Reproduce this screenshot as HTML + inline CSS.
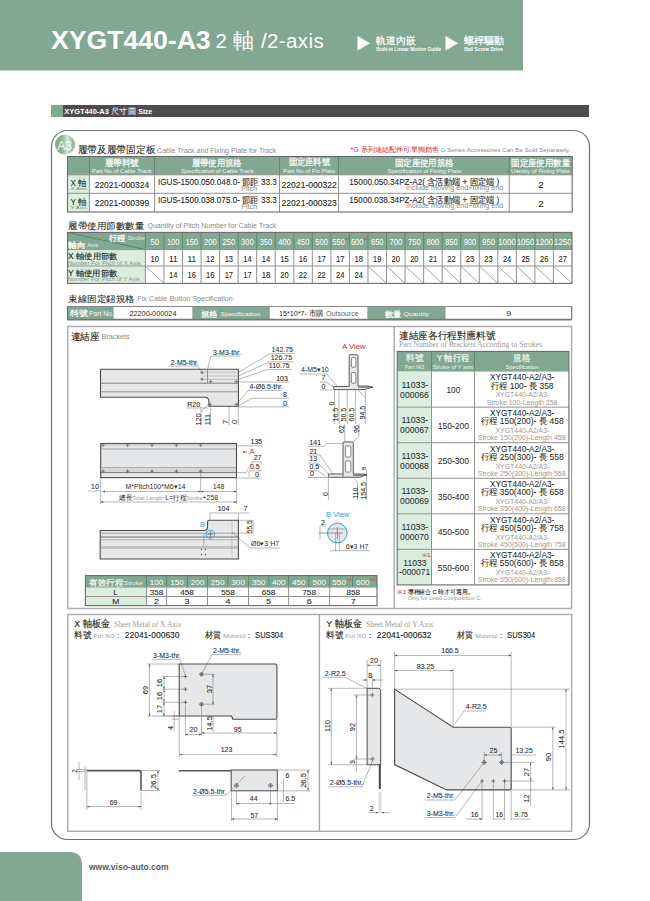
<!DOCTYPE html><html><head><meta charset="utf-8"><style>*{margin:0;padding:0}html,body{width:650px;height:901px;overflow:hidden;background:#fff}svg{display:block;font-family:"Liberation Sans",sans-serif}</style></head><body>
<svg width="650" height="901" viewBox="0 0 650 901">
<defs><linearGradient id="a3g" x1="0" y1="0" x2="1" y2="0"><stop offset="0" stop-color="#7aa88a"/><stop offset="0.35" stop-color="#8db59b"/><stop offset="0.62" stop-color="#d3e5d9"/><stop offset="1" stop-color="#7ea98f"/></linearGradient></defs>
<rect x="0" y="0" width="523" height="70.5" fill="#82a893" stroke="none" stroke-width="1" rx="0" />
<text x="51" y="49" font-size="26.6" fill="#fff" font-weight="bold" text-anchor="start" font-family='"Liberation Sans",sans-serif' >XYGT440-A3</text>
<text x="215.5" y="48" font-size="20.5" fill="#fff" font-weight="normal" text-anchor="start" font-family='"Liberation Sans",sans-serif' letter-spacing="0.4">2 軸 /2-axis</text>
<path d="M357.5,36 L370,43.2 L357.5,50.5 Z" fill="#fff" stroke="none" stroke-width="1" />
<text x="376.3" y="43.9" font-size="9.6" fill="#fff" font-weight="normal" text-anchor="start" font-family='"Liberation Sans",sans-serif'  stroke="#fff" stroke-width="0.25" textLength="39.0" lengthAdjust="spacingAndGlyphs">軌道內嵌</text>
<text x="376.3" y="51.2" font-size="4.7" fill="#fff" font-weight="bold" text-anchor="start" font-family='"Liberation Sans",sans-serif'  textLength="65.0" lengthAdjust="spacingAndGlyphs">Built-in Linear Motion Guide</text>
<path d="M445.5,36 L458,43.2 L445.5,50.5 Z" fill="#fff" stroke="none" stroke-width="1" />
<text x="464.2" y="43.9" font-size="9.6" fill="#fff" font-weight="normal" text-anchor="start" font-family='"Liberation Sans",sans-serif'  stroke="#fff" stroke-width="0.25" textLength="40.1" lengthAdjust="spacingAndGlyphs">螺桿驅動</text>
<text x="464.2" y="51.2" font-size="4.7" fill="#fff" font-weight="bold" text-anchor="start" font-family='"Liberation Sans",sans-serif'  textLength="38.7" lengthAdjust="spacingAndGlyphs">Ball Screw Drive</text>
<rect x="51" y="105" width="12" height="12" fill="#82a893" stroke="none" stroke-width="1" rx="0" />
<rect x="63" y="105" width="526" height="12" fill="#4d4d4f" stroke="none" stroke-width="1" rx="0" />
<text x="64.3" y="114.1" font-size="7" fill="#fff" font-weight="bold" text-anchor="start" font-family='"Liberation Sans",sans-serif'  textLength="44.5" lengthAdjust="spacingAndGlyphs">XYGT440-A3</text>
<text x="111.2" y="114.3" font-size="8" fill="#fff" font-weight="normal" text-anchor="start" font-family='"Liberation Sans",sans-serif'  textLength="24.5" lengthAdjust="spacingAndGlyphs">尺寸圖</text>
<text x="138.2" y="114.1" font-size="7" fill="#fff" font-weight="bold" text-anchor="start" font-family='"Liberation Sans",sans-serif'  textLength="14.1" lengthAdjust="spacingAndGlyphs">Size</text>
<rect x="51.5" y="130.5" width="538" height="709" fill="none" stroke="#727272" stroke-width="1.2" rx="16" />
<circle cx="65" cy="144.6" r="10" fill="url(#a3g)"/>
<text x="64.5" y="149.5" font-size="12" fill="#fff" font-weight="normal" text-anchor="middle" font-family='"Liberation Sans",sans-serif' opacity="0.9">A3</text>
<text x="77.7" y="153" font-size="9.6" fill="#231f20" font-weight="normal" text-anchor="start" font-family='"Liberation Sans",sans-serif'  stroke="#231f20" stroke-width="0.08" textLength="77.6" lengthAdjust="spacingAndGlyphs">履帶及履帶固定板</text>
<text x="157.1" y="153" font-size="7.4" fill="#8a8a8a" font-weight="normal" text-anchor="start" font-family='"Liberation Sans",sans-serif'  textLength="119.2" lengthAdjust="spacingAndGlyphs">Cable Track and Fixing Plate for Track</text>
<text x="350.5" y="152.2" font-size="7" fill="#e0262b" font-weight="normal" text-anchor="start" font-family='"Liberation Sans",sans-serif'  textLength="88.6" lengthAdjust="spacingAndGlyphs">*G 系列連結配件可單獨銷售</text>
<text x="440.7" y="152" font-size="6.2" fill="#8a8a8a" font-weight="normal" text-anchor="start" font-family='"Liberation Sans",sans-serif'  textLength="129.6" lengthAdjust="spacingAndGlyphs">G Series Accessories Can Be Sold Separately.</text>
<rect x="67.5" y="156.5" width="504.70000000000005" height="18.30000000000001" fill="#82a893" stroke="none" stroke-width="1" rx="0" />
<rect x="67.5" y="174.8" width="21.900000000000006" height="37.19999999999999" fill="#d9eedf" stroke="none" stroke-width="1" rx="0" />
<text x="104.7" y="165.5" font-size="8.8" fill="#f2f7f3" font-weight="normal" text-anchor="start" font-family='"Liberation Sans",sans-serif'  stroke="#f2f7f3" stroke-width="0.3" textLength="34.4" lengthAdjust="spacingAndGlyphs">履帶料號</text>
<text x="91.7" y="172.8" font-size="6.1" fill="#f2f7f3" font-weight="normal" text-anchor="start" font-family='"Liberation Sans",sans-serif'  textLength="60.1" lengthAdjust="spacingAndGlyphs">Part No of Cable Track</text>
<text x="191.7" y="165.5" font-size="8.8" fill="#f2f7f3" font-weight="normal" text-anchor="start" font-family='"Liberation Sans",sans-serif'  stroke="#f2f7f3" stroke-width="0.3" textLength="50.1" lengthAdjust="spacingAndGlyphs">履帶使用規格</text>
<text x="180.89999999999998" y="172.6" font-size="6.1" fill="#f2f7f3" font-weight="normal" text-anchor="start" font-family='"Liberation Sans",sans-serif'  textLength="72.8" lengthAdjust="spacingAndGlyphs">Specification of Cable Track</text>
<text x="288.5" y="165.2" font-size="8.8" fill="#f2f7f3" font-weight="normal" text-anchor="start" font-family='"Liberation Sans",sans-serif'  stroke="#f2f7f3" stroke-width="0.3" textLength="41.4" lengthAdjust="spacingAndGlyphs">固定座料號</text>
<text x="283.2" y="172.8" font-size="6.1" fill="#f2f7f3" font-weight="normal" text-anchor="start" font-family='"Liberation Sans",sans-serif'  textLength="52.1" lengthAdjust="spacingAndGlyphs">Part No of Fix Plate</text>
<text x="394.7" y="165.7" font-size="8.8" fill="#f2f7f3" font-weight="normal" text-anchor="start" font-family='"Liberation Sans",sans-serif'  stroke="#f2f7f3" stroke-width="0.3" textLength="59.1" lengthAdjust="spacingAndGlyphs">固定座使用規格</text>
<text x="387.4" y="172.8" font-size="6.1" fill="#f2f7f3" font-weight="normal" text-anchor="start" font-family='"Liberation Sans",sans-serif'  textLength="73.9" lengthAdjust="spacingAndGlyphs">Specification of Fixing Plate</text>
<text x="511.09999999999997" y="165.7" font-size="8.8" fill="#f2f7f3" font-weight="normal" text-anchor="start" font-family='"Liberation Sans",sans-serif'  stroke="#f2f7f3" stroke-width="0.3" textLength="59.2" lengthAdjust="spacingAndGlyphs">固定座使用數量</text>
<text x="511.09999999999997" y="172.8" font-size="6.1" fill="#f2f7f3" font-weight="normal" text-anchor="start" font-family='"Liberation Sans",sans-serif'  textLength="59.0" lengthAdjust="spacingAndGlyphs">Uantity of Fixing Plate</text>
<text x="70.60000000000001" y="186.2" font-size="8.6" fill="#231f20" font-weight="normal" text-anchor="start" font-family='"Liberation Sans",sans-serif'  textLength="16.2" lengthAdjust="spacingAndGlyphs">X 軸</text>
<text x="70.60000000000001" y="190.3" font-size="4.4" fill="#8a8a8a" font-weight="normal" text-anchor="start" font-family='"Liberation Sans",sans-serif'  textLength="16.6" lengthAdjust="spacingAndGlyphs">X Axis</text>
<text x="94.7" y="187.6" font-size="8.7" fill="#231f20" font-weight="normal" text-anchor="start" font-family='"Liberation Sans",sans-serif'  stroke="#231f20" stroke-width="0.1" textLength="54.4" lengthAdjust="spacingAndGlyphs">22021-000324</text>
<text x="157.89999999999998" y="184.5" font-size="8.9" fill="#231f20" font-weight="normal" text-anchor="start" font-family='"Liberation Sans",sans-serif'  stroke="#231f20" stroke-width="0.1" textLength="119.0" lengthAdjust="spacingAndGlyphs">IGUS-1500.050.048.0- 節距 33.3</text>
<text x="241.2" y="190.6" font-size="6.6" fill="#8a8a8a" font-weight="normal" text-anchor="start" font-family='"Liberation Sans",sans-serif'  textLength="16.1" lengthAdjust="spacingAndGlyphs">Pitch</text>
<text x="281.59999999999997" y="187.6" font-size="8.7" fill="#231f20" font-weight="normal" text-anchor="start" font-family='"Liberation Sans",sans-serif'  stroke="#231f20" stroke-width="0.1" textLength="55.2" lengthAdjust="spacingAndGlyphs">22021-000322</text>
<text x="349.3" y="184.6" font-size="8.9" fill="#231f20" font-weight="normal" text-anchor="start" font-family='"Liberation Sans",sans-serif'  stroke="#231f20" stroke-width="0.1" textLength="150.0" lengthAdjust="spacingAndGlyphs">15000.050.34PZ-A2( 含活動端 + 固定端 )</text>
<text x="405.9" y="189.6" font-size="6.9" fill="#8a8a8a" font-weight="normal" text-anchor="start" font-family='"Liberation Sans",sans-serif'  textLength="97.4" lengthAdjust="spacingAndGlyphs">Include moving end+fixing end</text>
<text x="538.2" y="188.4" font-size="8.6" fill="#231f20" font-weight="normal" text-anchor="start" font-family='"Liberation Sans",sans-serif'  stroke="#231f20" stroke-width="0.1" textLength="5.5" lengthAdjust="spacingAndGlyphs">2</text>
<text x="70.60000000000001" y="204.7" font-size="8.6" fill="#231f20" font-weight="normal" text-anchor="start" font-family='"Liberation Sans",sans-serif'  textLength="16.2" lengthAdjust="spacingAndGlyphs">Y 軸</text>
<text x="70.60000000000001" y="208.8" font-size="4.4" fill="#8a8a8a" font-weight="normal" text-anchor="start" font-family='"Liberation Sans",sans-serif'  textLength="16.6" lengthAdjust="spacingAndGlyphs">Y Axis</text>
<text x="94.7" y="206.1" font-size="8.7" fill="#231f20" font-weight="normal" text-anchor="start" font-family='"Liberation Sans",sans-serif'  stroke="#231f20" stroke-width="0.1" textLength="54.4" lengthAdjust="spacingAndGlyphs">22021-000399</text>
<text x="157.89999999999998" y="203.0" font-size="8.9" fill="#231f20" font-weight="normal" text-anchor="start" font-family='"Liberation Sans",sans-serif'  stroke="#231f20" stroke-width="0.1" textLength="119.0" lengthAdjust="spacingAndGlyphs">IGUS-1500.038.075.0- 節距 33.3</text>
<text x="241.2" y="209.1" font-size="6.6" fill="#8a8a8a" font-weight="normal" text-anchor="start" font-family='"Liberation Sans",sans-serif'  textLength="16.1" lengthAdjust="spacingAndGlyphs">Pitch</text>
<text x="281.59999999999997" y="206.1" font-size="8.7" fill="#231f20" font-weight="normal" text-anchor="start" font-family='"Liberation Sans",sans-serif'  stroke="#231f20" stroke-width="0.1" textLength="55.2" lengthAdjust="spacingAndGlyphs">22021-000323</text>
<text x="349.3" y="203.1" font-size="8.9" fill="#231f20" font-weight="normal" text-anchor="start" font-family='"Liberation Sans",sans-serif'  stroke="#231f20" stroke-width="0.1" textLength="150.0" lengthAdjust="spacingAndGlyphs">15000.038.34PZ-A2( 含活動端 + 固定端 )</text>
<text x="405.9" y="208.1" font-size="6.9" fill="#8a8a8a" font-weight="normal" text-anchor="start" font-family='"Liberation Sans",sans-serif'  textLength="97.4" lengthAdjust="spacingAndGlyphs">Include moving end+fixing end</text>
<text x="538.2" y="206.9" font-size="8.6" fill="#231f20" font-weight="normal" text-anchor="start" font-family='"Liberation Sans",sans-serif'  stroke="#231f20" stroke-width="0.1" textLength="5.5" lengthAdjust="spacingAndGlyphs">2</text>
<line x1="89.4" y1="156.5" x2="89.4" y2="174.8" stroke="#5f8a70" stroke-width="1" />
<line x1="89.4" y1="174.8" x2="89.4" y2="212" stroke="#929292" stroke-width="1" />
<line x1="154.6" y1="156.5" x2="154.6" y2="174.8" stroke="#5f8a70" stroke-width="1" />
<line x1="154.6" y1="174.8" x2="154.6" y2="212" stroke="#929292" stroke-width="1" />
<line x1="279.5" y1="156.5" x2="279.5" y2="174.8" stroke="#5f8a70" stroke-width="1" />
<line x1="279.5" y1="174.8" x2="279.5" y2="212" stroke="#929292" stroke-width="1" />
<line x1="338.5" y1="156.5" x2="338.5" y2="174.8" stroke="#5f8a70" stroke-width="1" />
<line x1="338.5" y1="174.8" x2="338.5" y2="212" stroke="#929292" stroke-width="1" />
<line x1="509.2" y1="156.5" x2="509.2" y2="174.8" stroke="#5f8a70" stroke-width="1" />
<line x1="509.2" y1="174.8" x2="509.2" y2="212" stroke="#929292" stroke-width="1" />
<line x1="67.5" y1="174.8" x2="572.2" y2="174.8" stroke="#929292" stroke-width="1" />
<line x1="67.5" y1="193.3" x2="572.2" y2="193.3" stroke="#929292" stroke-width="1" />
<rect x="67.5" y="156.5" width="504.70000000000005" height="55.5" fill="none" stroke="#6a6a6a" stroke-width="1.1" rx="0" />
<text x="68.3" y="229" font-size="9.4" fill="#231f20" font-weight="normal" text-anchor="start" font-family='"Liberation Sans",sans-serif'  stroke="#231f20" stroke-width="0.08" textLength="76.0" lengthAdjust="spacingAndGlyphs">履帶使用節數數量</text>
<text x="147.39999999999998" y="228" font-size="7.2" fill="#8a8a8a" font-weight="normal" text-anchor="start" font-family='"Liberation Sans",sans-serif'  textLength="128.9" lengthAdjust="spacingAndGlyphs">Quantity of Pitch Number for Cable Track</text>
<rect x="67.6" y="232.4" width="504.4" height="17.19999999999999" fill="#82a893" stroke="none" stroke-width="1" rx="0" />
<rect x="67.6" y="249.6" width="77.80000000000001" height="33.79999999999998" fill="#d9eedf" stroke="none" stroke-width="1" rx="0" />
<line x1="67.6" y1="232.4" x2="145.4" y2="249.6" stroke="#4f7a60" stroke-width="0.8" />
<text x="108.9" y="240.5" font-size="8.2" fill="#fff" font-weight="normal" text-anchor="start" font-family='"Liberation Sans",sans-serif'  stroke="#fff" stroke-width="0.3" textLength="16.3" lengthAdjust="spacingAndGlyphs">行程</text>
<text x="127.7" y="240.2" font-size="5.8" fill="#e8f2ea" font-weight="normal" text-anchor="start" font-family='"Liberation Sans",sans-serif'  textLength="17.1" lengthAdjust="spacingAndGlyphs">Stroke</text>
<text x="68.4" y="247.6" font-size="8.2" fill="#fff" font-weight="normal" text-anchor="start" font-family='"Liberation Sans",sans-serif'  stroke="#fff" stroke-width="0.3" textLength="17.2" lengthAdjust="spacingAndGlyphs">軸向</text>
<text x="87.2" y="247" font-size="5.6" fill="#e8f2ea" font-weight="normal" text-anchor="start" font-family='"Liberation Sans",sans-serif'  textLength="11.1" lengthAdjust="spacingAndGlyphs">Axis</text>
<text x="150.47391304347826" y="244.8" font-size="8.8" fill="#fff" font-weight="normal" text-anchor="start" font-family='"Liberation Sans",sans-serif'  textLength="8.4" lengthAdjust="spacingAndGlyphs">50</text>
<text x="150.47391304347826" y="261.7" font-size="8.8" fill="#231f20" font-weight="normal" text-anchor="start" font-family='"Liberation Sans",sans-serif'  stroke="#231f20" stroke-width="0.1" textLength="8.4" lengthAdjust="spacingAndGlyphs">10</text>
<line x1="145.4" y1="266" x2="163.94782608695652" y2="283.4" stroke="#666" stroke-width="0.6" />
<text x="166.9217391304348" y="244.8" font-size="8.8" fill="#fff" font-weight="normal" text-anchor="start" font-family='"Liberation Sans",sans-serif'  textLength="12.6" lengthAdjust="spacingAndGlyphs">100</text>
<text x="169.02173913043478" y="261.7" font-size="8.8" fill="#231f20" font-weight="normal" text-anchor="start" font-family='"Liberation Sans",sans-serif'  stroke="#231f20" stroke-width="0.1" textLength="8.4" lengthAdjust="spacingAndGlyphs">11</text>
<text x="169.02173913043478" y="278.4" font-size="8.8" fill="#231f20" font-weight="normal" text-anchor="start" font-family='"Liberation Sans",sans-serif'  stroke="#231f20" stroke-width="0.1" textLength="8.4" lengthAdjust="spacingAndGlyphs">14</text>
<text x="185.4695652173913" y="244.8" font-size="8.8" fill="#fff" font-weight="normal" text-anchor="start" font-family='"Liberation Sans",sans-serif'  textLength="12.6" lengthAdjust="spacingAndGlyphs">150</text>
<text x="187.5695652173913" y="261.7" font-size="8.8" fill="#231f20" font-weight="normal" text-anchor="start" font-family='"Liberation Sans",sans-serif'  stroke="#231f20" stroke-width="0.1" textLength="8.4" lengthAdjust="spacingAndGlyphs">11</text>
<text x="187.5695652173913" y="278.4" font-size="8.8" fill="#231f20" font-weight="normal" text-anchor="start" font-family='"Liberation Sans",sans-serif'  stroke="#231f20" stroke-width="0.1" textLength="8.4" lengthAdjust="spacingAndGlyphs">16</text>
<text x="204.01739130434783" y="244.8" font-size="8.8" fill="#fff" font-weight="normal" text-anchor="start" font-family='"Liberation Sans",sans-serif'  textLength="12.6" lengthAdjust="spacingAndGlyphs">200</text>
<text x="206.11739130434782" y="261.7" font-size="8.8" fill="#231f20" font-weight="normal" text-anchor="start" font-family='"Liberation Sans",sans-serif'  stroke="#231f20" stroke-width="0.1" textLength="8.4" lengthAdjust="spacingAndGlyphs">12</text>
<text x="206.11739130434782" y="278.4" font-size="8.8" fill="#231f20" font-weight="normal" text-anchor="start" font-family='"Liberation Sans",sans-serif'  stroke="#231f20" stroke-width="0.1" textLength="8.4" lengthAdjust="spacingAndGlyphs">16</text>
<text x="222.56521739130434" y="244.8" font-size="8.8" fill="#fff" font-weight="normal" text-anchor="start" font-family='"Liberation Sans",sans-serif'  textLength="12.6" lengthAdjust="spacingAndGlyphs">250</text>
<text x="224.66521739130434" y="261.7" font-size="8.8" fill="#231f20" font-weight="normal" text-anchor="start" font-family='"Liberation Sans",sans-serif'  stroke="#231f20" stroke-width="0.1" textLength="8.4" lengthAdjust="spacingAndGlyphs">13</text>
<text x="224.66521739130434" y="278.4" font-size="8.8" fill="#231f20" font-weight="normal" text-anchor="start" font-family='"Liberation Sans",sans-serif'  stroke="#231f20" stroke-width="0.1" textLength="8.4" lengthAdjust="spacingAndGlyphs">17</text>
<text x="241.11304347826086" y="244.8" font-size="8.8" fill="#fff" font-weight="normal" text-anchor="start" font-family='"Liberation Sans",sans-serif'  textLength="12.6" lengthAdjust="spacingAndGlyphs">300</text>
<text x="243.21304347826086" y="261.7" font-size="8.8" fill="#231f20" font-weight="normal" text-anchor="start" font-family='"Liberation Sans",sans-serif'  stroke="#231f20" stroke-width="0.1" textLength="8.4" lengthAdjust="spacingAndGlyphs">14</text>
<text x="243.21304347826086" y="278.4" font-size="8.8" fill="#231f20" font-weight="normal" text-anchor="start" font-family='"Liberation Sans",sans-serif'  stroke="#231f20" stroke-width="0.1" textLength="8.4" lengthAdjust="spacingAndGlyphs">17</text>
<text x="259.6608695652174" y="244.8" font-size="8.8" fill="#fff" font-weight="normal" text-anchor="start" font-family='"Liberation Sans",sans-serif'  textLength="12.6" lengthAdjust="spacingAndGlyphs">350</text>
<text x="261.76086956521743" y="261.7" font-size="8.8" fill="#231f20" font-weight="normal" text-anchor="start" font-family='"Liberation Sans",sans-serif'  stroke="#231f20" stroke-width="0.1" textLength="8.4" lengthAdjust="spacingAndGlyphs">14</text>
<text x="261.76086956521743" y="278.4" font-size="8.8" fill="#231f20" font-weight="normal" text-anchor="start" font-family='"Liberation Sans",sans-serif'  stroke="#231f20" stroke-width="0.1" textLength="8.4" lengthAdjust="spacingAndGlyphs">18</text>
<text x="278.2086956521739" y="244.8" font-size="8.8" fill="#fff" font-weight="normal" text-anchor="start" font-family='"Liberation Sans",sans-serif'  textLength="12.6" lengthAdjust="spacingAndGlyphs">400</text>
<text x="280.3086956521739" y="261.7" font-size="8.8" fill="#231f20" font-weight="normal" text-anchor="start" font-family='"Liberation Sans",sans-serif'  stroke="#231f20" stroke-width="0.1" textLength="8.4" lengthAdjust="spacingAndGlyphs">15</text>
<text x="280.3086956521739" y="278.4" font-size="8.8" fill="#231f20" font-weight="normal" text-anchor="start" font-family='"Liberation Sans",sans-serif'  stroke="#231f20" stroke-width="0.1" textLength="8.4" lengthAdjust="spacingAndGlyphs">20</text>
<text x="296.75652173913045" y="244.8" font-size="8.8" fill="#fff" font-weight="normal" text-anchor="start" font-family='"Liberation Sans",sans-serif'  textLength="12.6" lengthAdjust="spacingAndGlyphs">450</text>
<text x="298.85652173913047" y="261.7" font-size="8.8" fill="#231f20" font-weight="normal" text-anchor="start" font-family='"Liberation Sans",sans-serif'  stroke="#231f20" stroke-width="0.1" textLength="8.4" lengthAdjust="spacingAndGlyphs">16</text>
<text x="298.85652173913047" y="278.4" font-size="8.8" fill="#231f20" font-weight="normal" text-anchor="start" font-family='"Liberation Sans",sans-serif'  stroke="#231f20" stroke-width="0.1" textLength="8.4" lengthAdjust="spacingAndGlyphs">22</text>
<text x="315.30434782608694" y="244.8" font-size="8.8" fill="#fff" font-weight="normal" text-anchor="start" font-family='"Liberation Sans",sans-serif'  textLength="12.6" lengthAdjust="spacingAndGlyphs">500</text>
<text x="317.40434782608696" y="261.7" font-size="8.8" fill="#231f20" font-weight="normal" text-anchor="start" font-family='"Liberation Sans",sans-serif'  stroke="#231f20" stroke-width="0.1" textLength="8.4" lengthAdjust="spacingAndGlyphs">17</text>
<text x="317.40434782608696" y="278.4" font-size="8.8" fill="#231f20" font-weight="normal" text-anchor="start" font-family='"Liberation Sans",sans-serif'  stroke="#231f20" stroke-width="0.1" textLength="8.4" lengthAdjust="spacingAndGlyphs">22</text>
<text x="332.3521739130435" y="244.8" font-size="8.8" fill="#fff" font-weight="normal" text-anchor="start" font-family='"Liberation Sans",sans-serif'  textLength="12.6" lengthAdjust="spacingAndGlyphs">550</text>
<text x="347.6521739130435" y="239.5" font-size="3.6" fill="#e0262b" font-weight="normal" text-anchor="middle" font-family='"Liberation Sans",sans-serif' >※1</text>
<text x="335.9521739130435" y="261.7" font-size="8.8" fill="#231f20" font-weight="normal" text-anchor="start" font-family='"Liberation Sans",sans-serif'  stroke="#231f20" stroke-width="0.1" textLength="8.4" lengthAdjust="spacingAndGlyphs">17</text>
<text x="335.9521739130435" y="278.4" font-size="8.8" fill="#231f20" font-weight="normal" text-anchor="start" font-family='"Liberation Sans",sans-serif'  stroke="#231f20" stroke-width="0.1" textLength="8.4" lengthAdjust="spacingAndGlyphs">24</text>
<text x="350.90000000000003" y="244.8" font-size="8.8" fill="#fff" font-weight="normal" text-anchor="start" font-family='"Liberation Sans",sans-serif'  textLength="12.6" lengthAdjust="spacingAndGlyphs">600</text>
<text x="366.20000000000005" y="239.5" font-size="3.6" fill="#e0262b" font-weight="normal" text-anchor="middle" font-family='"Liberation Sans",sans-serif' >※1</text>
<text x="354.50000000000006" y="261.7" font-size="8.8" fill="#231f20" font-weight="normal" text-anchor="start" font-family='"Liberation Sans",sans-serif'  stroke="#231f20" stroke-width="0.1" textLength="8.4" lengthAdjust="spacingAndGlyphs">18</text>
<text x="354.50000000000006" y="278.4" font-size="8.8" fill="#231f20" font-weight="normal" text-anchor="start" font-family='"Liberation Sans",sans-serif'  stroke="#231f20" stroke-width="0.1" textLength="8.4" lengthAdjust="spacingAndGlyphs">24</text>
<text x="370.9478260869565" y="244.8" font-size="8.8" fill="#fff" font-weight="normal" text-anchor="start" font-family='"Liberation Sans",sans-serif'  textLength="12.6" lengthAdjust="spacingAndGlyphs">650</text>
<text x="373.04782608695655" y="261.7" font-size="8.8" fill="#231f20" font-weight="normal" text-anchor="start" font-family='"Liberation Sans",sans-serif'  stroke="#231f20" stroke-width="0.1" textLength="8.4" lengthAdjust="spacingAndGlyphs">19</text>
<line x1="367.9739130434783" y1="266" x2="386.5217391304348" y2="283.4" stroke="#666" stroke-width="0.6" />
<text x="389.495652173913" y="244.8" font-size="8.8" fill="#fff" font-weight="normal" text-anchor="start" font-family='"Liberation Sans",sans-serif'  textLength="12.6" lengthAdjust="spacingAndGlyphs">700</text>
<text x="391.59565217391304" y="261.7" font-size="8.8" fill="#231f20" font-weight="normal" text-anchor="start" font-family='"Liberation Sans",sans-serif'  stroke="#231f20" stroke-width="0.1" textLength="8.4" lengthAdjust="spacingAndGlyphs">20</text>
<line x1="386.5217391304348" y1="266" x2="405.0695652173913" y2="283.4" stroke="#666" stroke-width="0.6" />
<text x="408.04347826086956" y="244.8" font-size="8.8" fill="#fff" font-weight="normal" text-anchor="start" font-family='"Liberation Sans",sans-serif'  textLength="12.6" lengthAdjust="spacingAndGlyphs">750</text>
<text x="410.1434782608696" y="261.7" font-size="8.8" fill="#231f20" font-weight="normal" text-anchor="start" font-family='"Liberation Sans",sans-serif'  stroke="#231f20" stroke-width="0.1" textLength="8.4" lengthAdjust="spacingAndGlyphs">20</text>
<line x1="405.0695652173913" y1="266" x2="423.61739130434785" y2="283.4" stroke="#666" stroke-width="0.6" />
<text x="426.5913043478261" y="244.8" font-size="8.8" fill="#fff" font-weight="normal" text-anchor="start" font-family='"Liberation Sans",sans-serif'  textLength="12.6" lengthAdjust="spacingAndGlyphs">800</text>
<text x="428.69130434782613" y="261.7" font-size="8.8" fill="#231f20" font-weight="normal" text-anchor="start" font-family='"Liberation Sans",sans-serif'  stroke="#231f20" stroke-width="0.1" textLength="8.4" lengthAdjust="spacingAndGlyphs">21</text>
<line x1="423.61739130434785" y1="266" x2="442.1652173913044" y2="283.4" stroke="#666" stroke-width="0.6" />
<text x="445.13913043478266" y="244.8" font-size="8.8" fill="#fff" font-weight="normal" text-anchor="start" font-family='"Liberation Sans",sans-serif'  textLength="12.6" lengthAdjust="spacingAndGlyphs">850</text>
<text x="447.2391304347827" y="261.7" font-size="8.8" fill="#231f20" font-weight="normal" text-anchor="start" font-family='"Liberation Sans",sans-serif'  stroke="#231f20" stroke-width="0.1" textLength="8.4" lengthAdjust="spacingAndGlyphs">22</text>
<line x1="442.1652173913044" y1="266" x2="460.71304347826094" y2="283.4" stroke="#666" stroke-width="0.6" />
<text x="463.6869565217391" y="244.8" font-size="8.8" fill="#fff" font-weight="normal" text-anchor="start" font-family='"Liberation Sans",sans-serif'  textLength="12.6" lengthAdjust="spacingAndGlyphs">900</text>
<text x="465.7869565217391" y="261.7" font-size="8.8" fill="#231f20" font-weight="normal" text-anchor="start" font-family='"Liberation Sans",sans-serif'  stroke="#231f20" stroke-width="0.1" textLength="8.4" lengthAdjust="spacingAndGlyphs">23</text>
<line x1="460.71304347826094" y1="266" x2="479.2608695652174" y2="283.4" stroke="#666" stroke-width="0.6" />
<text x="482.23478260869564" y="244.8" font-size="8.8" fill="#fff" font-weight="normal" text-anchor="start" font-family='"Liberation Sans",sans-serif'  textLength="12.6" lengthAdjust="spacingAndGlyphs">950</text>
<text x="484.33478260869566" y="261.7" font-size="8.8" fill="#231f20" font-weight="normal" text-anchor="start" font-family='"Liberation Sans",sans-serif'  stroke="#231f20" stroke-width="0.1" textLength="8.4" lengthAdjust="spacingAndGlyphs">23</text>
<line x1="479.2608695652174" y1="266" x2="497.8086956521739" y2="283.4" stroke="#666" stroke-width="0.6" />
<text x="498.0826086956522" y="244.8" font-size="8.8" fill="#fff" font-weight="normal" text-anchor="start" font-family='"Liberation Sans",sans-serif'  textLength="18.0" lengthAdjust="spacingAndGlyphs">1000</text>
<text x="502.8826086956522" y="261.7" font-size="8.8" fill="#231f20" font-weight="normal" text-anchor="start" font-family='"Liberation Sans",sans-serif'  stroke="#231f20" stroke-width="0.1" textLength="8.4" lengthAdjust="spacingAndGlyphs">24</text>
<line x1="497.8086956521739" y1="266" x2="516.3565217391305" y2="283.4" stroke="#666" stroke-width="0.6" />
<text x="516.6304347826087" y="244.8" font-size="8.8" fill="#fff" font-weight="normal" text-anchor="start" font-family='"Liberation Sans",sans-serif'  textLength="18.0" lengthAdjust="spacingAndGlyphs">1050</text>
<text x="521.4304347826088" y="261.7" font-size="8.8" fill="#231f20" font-weight="normal" text-anchor="start" font-family='"Liberation Sans",sans-serif'  stroke="#231f20" stroke-width="0.1" textLength="8.4" lengthAdjust="spacingAndGlyphs">25</text>
<line x1="516.3565217391305" y1="266" x2="534.904347826087" y2="283.4" stroke="#666" stroke-width="0.6" />
<text x="535.1782608695653" y="244.8" font-size="8.8" fill="#fff" font-weight="normal" text-anchor="start" font-family='"Liberation Sans",sans-serif'  textLength="18.0" lengthAdjust="spacingAndGlyphs">1200</text>
<text x="539.9782608695654" y="261.7" font-size="8.8" fill="#231f20" font-weight="normal" text-anchor="start" font-family='"Liberation Sans",sans-serif'  stroke="#231f20" stroke-width="0.1" textLength="8.4" lengthAdjust="spacingAndGlyphs">26</text>
<line x1="534.904347826087" y1="266" x2="553.4521739130435" y2="283.4" stroke="#666" stroke-width="0.6" />
<text x="553.7260869565217" y="244.8" font-size="8.8" fill="#fff" font-weight="normal" text-anchor="start" font-family='"Liberation Sans",sans-serif'  textLength="18.0" lengthAdjust="spacingAndGlyphs">1250</text>
<text x="558.5260869565218" y="261.7" font-size="8.8" fill="#231f20" font-weight="normal" text-anchor="start" font-family='"Liberation Sans",sans-serif'  stroke="#231f20" stroke-width="0.1" textLength="8.4" lengthAdjust="spacingAndGlyphs">27</text>
<line x1="553.4521739130435" y1="266" x2="572.0" y2="283.4" stroke="#666" stroke-width="0.6" />
<text x="68.0" y="258.5" font-size="8.2" fill="#231f20" font-weight="normal" text-anchor="start" font-family='"Liberation Sans",sans-serif'  stroke="#231f20" stroke-width="0.12" textLength="49.3" lengthAdjust="spacingAndGlyphs">X 軸使用節數</text>
<text x="68.0" y="264.5" font-size="5.8" fill="#8a8a8a" font-weight="normal" text-anchor="start" font-family='"Liberation Sans",sans-serif'  textLength="72.5" lengthAdjust="spacingAndGlyphs">Number For Pitch of X Axis</text>
<text x="68.0" y="275.5" font-size="8.2" fill="#231f20" font-weight="normal" text-anchor="start" font-family='"Liberation Sans",sans-serif'  stroke="#231f20" stroke-width="0.12" textLength="49.3" lengthAdjust="spacingAndGlyphs">Y 軸使用節數</text>
<text x="68.0" y="281.2" font-size="5.8" fill="#8a8a8a" font-weight="normal" text-anchor="start" font-family='"Liberation Sans",sans-serif'  textLength="71.8" lengthAdjust="spacingAndGlyphs">Number For Pitch of Y Axis</text>
<line x1="145.4" y1="232.4" x2="145.4" y2="249.6" stroke="#5f8a70" stroke-width="1" />
<line x1="145.4" y1="249.6" x2="145.4" y2="283.4" stroke="#929292" stroke-width="1" />
<line x1="163.94782608695652" y1="232.4" x2="163.94782608695652" y2="249.6" stroke="#5f8a70" stroke-width="1" />
<line x1="163.94782608695652" y1="249.6" x2="163.94782608695652" y2="283.4" stroke="#929292" stroke-width="1" />
<line x1="182.49565217391304" y1="232.4" x2="182.49565217391304" y2="249.6" stroke="#5f8a70" stroke-width="1" />
<line x1="182.49565217391304" y1="249.6" x2="182.49565217391304" y2="283.4" stroke="#929292" stroke-width="1" />
<line x1="201.04347826086956" y1="232.4" x2="201.04347826086956" y2="249.6" stroke="#5f8a70" stroke-width="1" />
<line x1="201.04347826086956" y1="249.6" x2="201.04347826086956" y2="283.4" stroke="#929292" stroke-width="1" />
<line x1="219.5913043478261" y1="232.4" x2="219.5913043478261" y2="249.6" stroke="#5f8a70" stroke-width="1" />
<line x1="219.5913043478261" y1="249.6" x2="219.5913043478261" y2="283.4" stroke="#929292" stroke-width="1" />
<line x1="238.1391304347826" y1="232.4" x2="238.1391304347826" y2="249.6" stroke="#5f8a70" stroke-width="1" />
<line x1="238.1391304347826" y1="249.6" x2="238.1391304347826" y2="283.4" stroke="#929292" stroke-width="1" />
<line x1="256.68695652173915" y1="232.4" x2="256.68695652173915" y2="249.6" stroke="#5f8a70" stroke-width="1" />
<line x1="256.68695652173915" y1="249.6" x2="256.68695652173915" y2="283.4" stroke="#929292" stroke-width="1" />
<line x1="275.2347826086957" y1="232.4" x2="275.2347826086957" y2="249.6" stroke="#5f8a70" stroke-width="1" />
<line x1="275.2347826086957" y1="249.6" x2="275.2347826086957" y2="283.4" stroke="#929292" stroke-width="1" />
<line x1="293.7826086956522" y1="232.4" x2="293.7826086956522" y2="249.6" stroke="#5f8a70" stroke-width="1" />
<line x1="293.7826086956522" y1="249.6" x2="293.7826086956522" y2="283.4" stroke="#929292" stroke-width="1" />
<line x1="312.3304347826087" y1="232.4" x2="312.3304347826087" y2="249.6" stroke="#5f8a70" stroke-width="1" />
<line x1="312.3304347826087" y1="249.6" x2="312.3304347826087" y2="283.4" stroke="#929292" stroke-width="1" />
<line x1="330.8782608695652" y1="232.4" x2="330.8782608695652" y2="249.6" stroke="#5f8a70" stroke-width="1" />
<line x1="330.8782608695652" y1="249.6" x2="330.8782608695652" y2="283.4" stroke="#929292" stroke-width="1" />
<line x1="349.4260869565218" y1="232.4" x2="349.4260869565218" y2="249.6" stroke="#5f8a70" stroke-width="1" />
<line x1="349.4260869565218" y1="249.6" x2="349.4260869565218" y2="283.4" stroke="#929292" stroke-width="1" />
<line x1="367.9739130434783" y1="232.4" x2="367.9739130434783" y2="249.6" stroke="#5f8a70" stroke-width="1" />
<line x1="367.9739130434783" y1="249.6" x2="367.9739130434783" y2="283.4" stroke="#929292" stroke-width="1" />
<line x1="386.5217391304348" y1="232.4" x2="386.5217391304348" y2="249.6" stroke="#5f8a70" stroke-width="1" />
<line x1="386.5217391304348" y1="249.6" x2="386.5217391304348" y2="283.4" stroke="#929292" stroke-width="1" />
<line x1="405.0695652173913" y1="232.4" x2="405.0695652173913" y2="249.6" stroke="#5f8a70" stroke-width="1" />
<line x1="405.0695652173913" y1="249.6" x2="405.0695652173913" y2="283.4" stroke="#929292" stroke-width="1" />
<line x1="423.61739130434785" y1="232.4" x2="423.61739130434785" y2="249.6" stroke="#5f8a70" stroke-width="1" />
<line x1="423.61739130434785" y1="249.6" x2="423.61739130434785" y2="283.4" stroke="#929292" stroke-width="1" />
<line x1="442.1652173913044" y1="232.4" x2="442.1652173913044" y2="249.6" stroke="#5f8a70" stroke-width="1" />
<line x1="442.1652173913044" y1="249.6" x2="442.1652173913044" y2="283.4" stroke="#929292" stroke-width="1" />
<line x1="460.71304347826094" y1="232.4" x2="460.71304347826094" y2="249.6" stroke="#5f8a70" stroke-width="1" />
<line x1="460.71304347826094" y1="249.6" x2="460.71304347826094" y2="283.4" stroke="#929292" stroke-width="1" />
<line x1="479.2608695652174" y1="232.4" x2="479.2608695652174" y2="249.6" stroke="#5f8a70" stroke-width="1" />
<line x1="479.2608695652174" y1="249.6" x2="479.2608695652174" y2="283.4" stroke="#929292" stroke-width="1" />
<line x1="497.8086956521739" y1="232.4" x2="497.8086956521739" y2="249.6" stroke="#5f8a70" stroke-width="1" />
<line x1="497.8086956521739" y1="249.6" x2="497.8086956521739" y2="283.4" stroke="#929292" stroke-width="1" />
<line x1="516.3565217391305" y1="232.4" x2="516.3565217391305" y2="249.6" stroke="#5f8a70" stroke-width="1" />
<line x1="516.3565217391305" y1="249.6" x2="516.3565217391305" y2="283.4" stroke="#929292" stroke-width="1" />
<line x1="534.904347826087" y1="232.4" x2="534.904347826087" y2="249.6" stroke="#5f8a70" stroke-width="1" />
<line x1="534.904347826087" y1="249.6" x2="534.904347826087" y2="283.4" stroke="#929292" stroke-width="1" />
<line x1="553.4521739130435" y1="232.4" x2="553.4521739130435" y2="249.6" stroke="#5f8a70" stroke-width="1" />
<line x1="553.4521739130435" y1="249.6" x2="553.4521739130435" y2="283.4" stroke="#929292" stroke-width="1" />
<line x1="67.6" y1="249.6" x2="572" y2="249.6" stroke="#929292" stroke-width="1" />
<line x1="67.6" y1="266" x2="572" y2="266" stroke="#929292" stroke-width="1" />
<rect x="67.6" y="232.4" width="504.4" height="50.99999999999997" fill="none" stroke="#6a6a6a" stroke-width="1.1" rx="0" />
<text x="68.0" y="301.8" font-size="9.4" fill="#231f20" font-weight="normal" text-anchor="start" font-family='"Liberation Sans",sans-serif'  stroke="#231f20" stroke-width="0.08" textLength="66.5" lengthAdjust="spacingAndGlyphs">束線固定鈕規格</text>
<text x="137.29999999999998" y="301.3" font-size="7.2" fill="#8a8a8a" font-weight="normal" text-anchor="start" font-family='"Liberation Sans",sans-serif'  textLength="95.5" lengthAdjust="spacingAndGlyphs">Fix Cable Button Specification</text>
<rect x="67.5" y="306.3" width="46.099999999999994" height="13.300000000000011" fill="#82a893" stroke="none" stroke-width="1" rx="0" />
<rect x="192.3" y="306.3" width="77.5" height="13.300000000000011" fill="#82a893" stroke="none" stroke-width="1" rx="0" />
<rect x="367.3" y="306.3" width="78.19999999999999" height="13.300000000000011" fill="#82a893" stroke="none" stroke-width="1" rx="0" />
<text x="69.7" y="316.3" font-size="8.4" fill="#fff" font-weight="normal" text-anchor="start" font-family='"Liberation Sans",sans-serif'  stroke="#fff" stroke-width="0.2" textLength="17.8" lengthAdjust="spacingAndGlyphs">料號</text>
<text x="89.10000000000001" y="315.6" font-size="6.4" fill="#f2f8f4" font-weight="normal" text-anchor="start" font-family='"Liberation Sans",sans-serif'  textLength="22.7" lengthAdjust="spacingAndGlyphs">Part No</text>
<text x="129.39999999999998" y="316.2" font-size="7.6" fill="#231f20" font-weight="normal" text-anchor="start" font-family='"Liberation Sans",sans-serif'  textLength="47.1" lengthAdjust="spacingAndGlyphs">22200-000024</text>
<text x="200.89999999999998" y="316.6" font-size="8.4" fill="#fff" font-weight="normal" text-anchor="start" font-family='"Liberation Sans",sans-serif'  stroke="#fff" stroke-width="0.2" textLength="17.0" lengthAdjust="spacingAndGlyphs">規格</text>
<text x="220.29999999999998" y="316.2" font-size="6.2" fill="#f2f8f4" font-weight="normal" text-anchor="start" font-family='"Liberation Sans",sans-serif'  textLength="40.0" lengthAdjust="spacingAndGlyphs">Specification</text>
<text x="279.09999999999997" y="316.2" font-size="7.6" fill="#231f20" font-weight="normal" text-anchor="start" font-family='"Liberation Sans",sans-serif'  textLength="44.7" lengthAdjust="spacingAndGlyphs">15*10*7- 市購</text>
<text x="326.0" y="316.2" font-size="6.6" fill="#666" font-weight="normal" text-anchor="start" font-family='"Liberation Sans",sans-serif'  textLength="32.6" lengthAdjust="spacingAndGlyphs">Outsource</text>
<text x="384.7" y="316.6" font-size="8.4" fill="#fff" font-weight="normal" text-anchor="start" font-family='"Liberation Sans",sans-serif'  stroke="#fff" stroke-width="0.2" textLength="16.6" lengthAdjust="spacingAndGlyphs">數量</text>
<text x="403.4" y="316.2" font-size="6.2" fill="#f2f8f4" font-weight="normal" text-anchor="start" font-family='"Liberation Sans",sans-serif'  textLength="25.9" lengthAdjust="spacingAndGlyphs">Quantity</text>
<text x="506.2" y="316.2" font-size="7.6" fill="#231f20" font-weight="normal" text-anchor="start" font-family='"Liberation Sans",sans-serif'  textLength="4.8" lengthAdjust="spacingAndGlyphs">9</text>
<line x1="67.5" y1="306.5" x2="571.7" y2="306.5" stroke="#888" stroke-width="1" />
<line x1="67.5" y1="319.6" x2="571.7" y2="319.6" stroke="#777" stroke-width="1.6" />
<line x1="67.5" y1="306.3" x2="67.5" y2="319.6" stroke="#6a6a6a" stroke-width="1.1" />
<line x1="571.7" y1="306.3" x2="571.7" y2="319.6" stroke="#6a6a6a" stroke-width="1.1" />
<rect x="67.8" y="326.5" width="503.8" height="282" fill="none" stroke="#a9a9a9" stroke-width="1.4" rx="0" />
<line x1="394.2" y1="326.5" x2="394.2" y2="608.5" stroke="#a9a9a9" stroke-width="1.4" />
<rect x="67.8" y="614.5" width="503.8" height="216.8" fill="none" stroke="#a9a9a9" stroke-width="1.4" rx="0" />
<line x1="319.4" y1="614.5" x2="319.4" y2="831.3" stroke="#a9a9a9" stroke-width="1.4" />
<text x="70.7" y="339.6" font-size="9.6" fill="#231f20" font-weight="normal" text-anchor="start" font-family='"Liberation Sans",sans-serif'  stroke="#231f20" stroke-width="0.1" textLength="28.9" lengthAdjust="spacingAndGlyphs">連結座</text>
<text x="101.60000000000001" y="338.8" font-size="7" fill="#8a8a8a" font-weight="normal" text-anchor="start" font-family='"Liberation Sans",sans-serif'  textLength="28.1" lengthAdjust="spacingAndGlyphs">Brackets</text>
<path d="M100.5,369.2 L238.4,369.2 L238.4,406.3 L208.9,406.3 L208.9,401.5 Q208.9,397.2 204.6,397.2 L100.5,397.2 Z" fill="#e6e7e9" stroke="#4b4b4b" stroke-width="1.1" />
<line x1="100.5" y1="383.2" x2="238.4" y2="383.2" stroke="#666" stroke-width="0.8" />
<line x1="100.5" y1="391.8" x2="238.4" y2="391.8" stroke="#777" stroke-width="0.7" />
<line x1="203" y1="372.2" x2="238.4" y2="372.2" stroke="#999" stroke-width="0.5" />
<line x1="203" y1="376" x2="238.4" y2="376" stroke="#999" stroke-width="0.5" />
<line x1="203" y1="379.4" x2="238.4" y2="379.4" stroke="#999" stroke-width="0.5" />
<line x1="207.5" y1="369.2" x2="207.5" y2="383.2" stroke="#666" stroke-width="0.6" />
<line x1="200.2" y1="372.6" x2="203.8" y2="372.6" stroke="#444" stroke-width="0.6" />
<line x1="202" y1="370.8" x2="202" y2="374.40000000000003" stroke="#444" stroke-width="0.6" />
<line x1="200.2" y1="379.2" x2="203.8" y2="379.2" stroke="#444" stroke-width="0.6" />
<line x1="202" y1="377.4" x2="202" y2="381.0" stroke="#444" stroke-width="0.6" />
<line x1="208.79999999999998" y1="381.6" x2="212.4" y2="381.6" stroke="#444" stroke-width="0.6" />
<line x1="210.6" y1="379.8" x2="210.6" y2="383.40000000000003" stroke="#444" stroke-width="0.6" />
<line x1="234.39999999999998" y1="381.6" x2="238.0" y2="381.6" stroke="#444" stroke-width="0.6" />
<line x1="236.2" y1="379.8" x2="236.2" y2="383.40000000000003" stroke="#444" stroke-width="0.6" />
<line x1="208.39999999999998" y1="404.4" x2="212.0" y2="404.4" stroke="#444" stroke-width="0.6" />
<line x1="210.2" y1="402.59999999999997" x2="210.2" y2="406.2" stroke="#444" stroke-width="0.6" />
<line x1="234.39999999999998" y1="404.4" x2="238.0" y2="404.4" stroke="#444" stroke-width="0.6" />
<line x1="236.2" y1="402.59999999999997" x2="236.2" y2="406.2" stroke="#444" stroke-width="0.6" />
<text x="170.7" y="364.5" font-size="7" fill="#2b2b2b" font-weight="normal" text-anchor="start" font-family='"Liberation Sans",sans-serif'  stroke="#2b2b2b" stroke-width="0.08">2-M5-thr.</text>
<line x1="169" y1="366" x2="198" y2="366" stroke="#6e6e6e" stroke-width="0.5" />
<line x1="198" y1="366" x2="202" y2="372.6" stroke="#6e6e6e" stroke-width="0.5" />
<text x="212.9" y="354.5" font-size="7" fill="#2b2b2b" font-weight="normal" text-anchor="start" font-family='"Liberation Sans",sans-serif'  stroke="#2b2b2b" stroke-width="0.08">3-M3-thr.</text>
<line x1="211" y1="356" x2="240" y2="356" stroke="#6e6e6e" stroke-width="0.5" />
<line x1="211" y1="356" x2="207.5" y2="369.5" stroke="#6e6e6e" stroke-width="0.5" />
<text x="271.6" y="352" font-size="7" fill="#2b2b2b" font-weight="normal" text-anchor="start" font-family='"Liberation Sans",sans-serif'  stroke="#2b2b2b" stroke-width="0.08">142.75</text>
<line x1="270.6" y1="353.5" x2="294.6" y2="353.5" stroke="#6e6e6e" stroke-width="0.5" />
<text x="270.7" y="360.3" font-size="7" fill="#2b2b2b" font-weight="normal" text-anchor="start" font-family='"Liberation Sans",sans-serif'  stroke="#2b2b2b" stroke-width="0.08">126.75</text>
<line x1="269.7" y1="361.8" x2="293.7" y2="361.8" stroke="#6e6e6e" stroke-width="0.5" />
<text x="268.8" y="367.9" font-size="7" fill="#2b2b2b" font-weight="normal" text-anchor="start" font-family='"Liberation Sans",sans-serif'  stroke="#2b2b2b" stroke-width="0.08">110.75</text>
<line x1="267.8" y1="369.4" x2="291.8" y2="369.4" stroke="#6e6e6e" stroke-width="0.5" />
<line x1="270.6" y1="353.5" x2="238.4" y2="372.2" stroke="#6e6e6e" stroke-width="0.5" />
<line x1="269.7" y1="361.8" x2="238.4" y2="376" stroke="#6e6e6e" stroke-width="0.5" />
<line x1="267.8" y1="369.4" x2="238.4" y2="379.4" stroke="#6e6e6e" stroke-width="0.5" />
<text x="276.2" y="380.6" font-size="7" fill="#2b2b2b" font-weight="normal" text-anchor="start" font-family='"Liberation Sans",sans-serif'  stroke="#2b2b2b" stroke-width="0.08">103</text>
<line x1="238.4" y1="382" x2="289" y2="382" stroke="#6e6e6e" stroke-width="0.5" />
<text x="249.5" y="388.9" font-size="7" fill="#2b2b2b" font-weight="normal" text-anchor="start" font-family='"Liberation Sans",sans-serif'  stroke="#2b2b2b" stroke-width="0.08">4-Ø6.5-thr.</text>
<line x1="248.5" y1="390.4" x2="282" y2="390.4" stroke="#6e6e6e" stroke-width="0.5" />
<line x1="248.5" y1="390.4" x2="236.2" y2="404.4" stroke="#6e6e6e" stroke-width="0.5" />
<text x="283" y="396.8" font-size="7" fill="#2b2b2b" font-weight="normal" text-anchor="start" font-family='"Liberation Sans",sans-serif'  stroke="#2b2b2b" stroke-width="0.08">8</text>
<line x1="252" y1="398.3" x2="289" y2="398.3" stroke="#6e6e6e" stroke-width="0.5" />
<line x1="252" y1="398.3" x2="238" y2="406" stroke="#6e6e6e" stroke-width="0.5" />
<text x="283" y="406" font-size="7" fill="#2b2b2b" font-weight="normal" text-anchor="start" font-family='"Liberation Sans",sans-serif'  stroke="#2b2b2b" stroke-width="0.08">0</text>
<line x1="238.4" y1="406.9" x2="289" y2="406.9" stroke="#6e6e6e" stroke-width="0.5" />
<text x="187.3" y="406.5" font-size="7" fill="#2b2b2b" font-weight="normal" text-anchor="start" font-family='"Liberation Sans",sans-serif'  stroke="#2b2b2b" stroke-width="0.08">R20</text>
<line x1="186" y1="408" x2="208" y2="408" stroke="#6e6e6e" stroke-width="0.5" />
<line x1="201" y1="406.5" x2="201" y2="425" stroke="#6e6e6e" stroke-width="0.5" />
<line x1="210.7" y1="406.5" x2="210.7" y2="425" stroke="#6e6e6e" stroke-width="0.5" />
<line x1="229" y1="406.5" x2="229" y2="425" stroke="#6e6e6e" stroke-width="0.5" />
<line x1="238.2" y1="406.5" x2="238.2" y2="425" stroke="#6e6e6e" stroke-width="0.5" />
<text x="0" y="0" font-size="7.5" fill="#2b2b2b" text-anchor="middle" font-family='"Liberation Sans",sans-serif' stroke="#2b2b2b" stroke-width="0.08" transform="translate(200.5,419.5) rotate(-90)">120</text>
<text x="0" y="0" font-size="7.5" fill="#2b2b2b" text-anchor="middle" font-family='"Liberation Sans",sans-serif' stroke="#2b2b2b" stroke-width="0.08" transform="translate(209.7,419.5) rotate(-90)">111</text>
<text x="0" y="0" font-size="7.5" fill="#2b2b2b" text-anchor="middle" font-family='"Liberation Sans",sans-serif' stroke="#2b2b2b" stroke-width="0.08" transform="translate(227.9,422) rotate(-90)">7</text>
<text x="0" y="0" font-size="7.5" fill="#2b2b2b" text-anchor="middle" font-family='"Liberation Sans",sans-serif' stroke="#2b2b2b" stroke-width="0.08" transform="translate(237.1,422) rotate(-90)">0</text>
<line x1="201" y1="412" x2="208.9" y2="404" stroke="#6e6e6e" stroke-width="0.5" />
<text x="342.3" y="349.2" font-size="7.6" fill="#e0262b" font-weight="normal" text-anchor="start" font-family='"Liberation Sans",sans-serif' >A View</text>
<path d="M349.2,386.5 L349.2,355.5 Q349.2,354.7 350,354.7 L357.2,354.7 Q358,354.7 358,355.5 L358,386 L368,386 L373,387.2 L364,389.6 L334.5,389.6 Q333.8,389.6 333.8,388.8 L333.8,386.5 Z" fill="#e6e7e9" stroke="#4b4b4b" stroke-width="0.9" />
<rect x="351.4" y="357.6" width="4.4" height="9.6" fill="#fff" stroke="#555" stroke-width="0.7" rx="1" />
<rect x="351.4" y="372.6" width="4.4" height="10.6" fill="#fff" stroke="#555" stroke-width="0.7" rx="1" />
<line x1="358" y1="387.2" x2="373" y2="387.2" stroke="#555" stroke-width="0.8" />
<text x="301" y="372" text-anchor="start" ><tspan font-size="7" fill="#2b2b2b" font-weight="normal" font-family='"Liberation Sans",sans-serif'>4-M5</tspan><tspan font-size="7" fill="#2b2b2b" font-weight="normal" font-family='"Liberation Sans",sans-serif'>▾</tspan><tspan font-size="7" fill="#2b2b2b" font-weight="normal" font-family='"Liberation Sans",sans-serif'>10</tspan></text>
<line x1="300" y1="374" x2="327" y2="374" stroke="#6e6e6e" stroke-width="0.5" />
<line x1="327" y1="374" x2="337" y2="386" stroke="#6e6e6e" stroke-width="0.5" />
<text x="321.5" y="380.4" font-size="7" fill="#2b2b2b" font-weight="normal" text-anchor="start" font-family='"Liberation Sans",sans-serif'  stroke="#2b2b2b" stroke-width="0.08">7</text>
<line x1="320" y1="382" x2="326" y2="382" stroke="#6e6e6e" stroke-width="0.5" />
<line x1="326" y1="382" x2="333.8" y2="387" stroke="#6e6e6e" stroke-width="0.5" />
<text x="321.5" y="388.8" font-size="7" fill="#2b2b2b" font-weight="normal" text-anchor="start" font-family='"Liberation Sans",sans-serif'  stroke="#2b2b2b" stroke-width="0.08">0</text>
<line x1="320" y1="390" x2="333.8" y2="390" stroke="#6e6e6e" stroke-width="0.5" />
<line x1="334.6" y1="389.6" x2="334.6" y2="424" stroke="#6e6e6e" stroke-width="0.5" />
<line x1="339" y1="389.6" x2="339" y2="424" stroke="#6e6e6e" stroke-width="0.5" />
<line x1="347.2" y1="389.6" x2="347.2" y2="424" stroke="#6e6e6e" stroke-width="0.5" />
<line x1="355.4" y1="389.6" x2="355.4" y2="424" stroke="#6e6e6e" stroke-width="0.5" />
<line x1="365.4" y1="389.6" x2="365.4" y2="424" stroke="#6e6e6e" stroke-width="0.5" />
<line x1="358" y1="389.6" x2="365.4" y2="398" stroke="#6e6e6e" stroke-width="0.5" />
<text x="0" y="0" font-size="7" fill="#2b2b2b" text-anchor="middle" font-family='"Liberation Sans",sans-serif' stroke="#2b2b2b" stroke-width="0.08" transform="translate(333.5,403.5) rotate(-90)">0</text>
<text x="0" y="0" font-size="7" fill="#2b2b2b" text-anchor="middle" font-family='"Liberation Sans",sans-serif' stroke="#2b2b2b" stroke-width="0.08" transform="translate(338.3,414.6) rotate(-90)">16.5</text>
<text x="0" y="0" font-size="7" fill="#2b2b2b" text-anchor="middle" font-family='"Liberation Sans",sans-serif' stroke="#2b2b2b" stroke-width="0.08" transform="translate(346,414.6) rotate(-90)">50.5</text>
<text x="0" y="0" font-size="7" fill="#2b2b2b" text-anchor="middle" font-family='"Liberation Sans",sans-serif' stroke="#2b2b2b" stroke-width="0.08" transform="translate(354.4,414.6) rotate(-90)">60.5</text>
<text x="0" y="0" font-size="7" fill="#2b2b2b" text-anchor="middle" font-family='"Liberation Sans",sans-serif' stroke="#2b2b2b" stroke-width="0.08" transform="translate(364.6,412.7) rotate(-90)">94.5</text>
<rect x="100.7" y="443.5" width="135.8" height="34.1" fill="#e6e7e9" stroke="#4b4b4b" stroke-width="1.1" rx="0" />
<line x1="100.7" y1="449" x2="236.5" y2="449" stroke="#777" stroke-width="0.6" />
<line x1="100.7" y1="467.5" x2="236.5" y2="467.5" stroke="#777" stroke-width="0.6" />
<rect x="101.2" y="467.8" width="134.8" height="4.8" fill="#d6d6d6" stroke="none" stroke-width="1" rx="0" />
<line x1="100.7" y1="472.6" x2="236.5" y2="472.6" stroke="#666" stroke-width="0.8" />
<line x1="101.2" y1="445.3" x2="104.8" y2="445.3" stroke="#444" stroke-width="0.6" />
<line x1="103" y1="443.5" x2="103" y2="447.1" stroke="#444" stroke-width="0.6" />
<line x1="101.2" y1="471.2" x2="104.8" y2="471.2" stroke="#444" stroke-width="0.6" />
<line x1="103" y1="469.4" x2="103" y2="473.0" stroke="#444" stroke-width="0.6" />
<line x1="125.8" y1="445.3" x2="129.4" y2="445.3" stroke="#444" stroke-width="0.6" />
<line x1="127.6" y1="443.5" x2="127.6" y2="447.1" stroke="#444" stroke-width="0.6" />
<line x1="125.8" y1="471.2" x2="129.4" y2="471.2" stroke="#444" stroke-width="0.6" />
<line x1="127.6" y1="469.4" x2="127.6" y2="473.0" stroke="#444" stroke-width="0.6" />
<line x1="150.2" y1="445.3" x2="153.8" y2="445.3" stroke="#444" stroke-width="0.6" />
<line x1="152" y1="443.5" x2="152" y2="447.1" stroke="#444" stroke-width="0.6" />
<line x1="150.2" y1="471.2" x2="153.8" y2="471.2" stroke="#444" stroke-width="0.6" />
<line x1="152" y1="469.4" x2="152" y2="473.0" stroke="#444" stroke-width="0.6" />
<line x1="174.6" y1="445.3" x2="178.20000000000002" y2="445.3" stroke="#444" stroke-width="0.6" />
<line x1="176.4" y1="443.5" x2="176.4" y2="447.1" stroke="#444" stroke-width="0.6" />
<line x1="174.6" y1="471.2" x2="178.20000000000002" y2="471.2" stroke="#444" stroke-width="0.6" />
<line x1="176.4" y1="469.4" x2="176.4" y2="473.0" stroke="#444" stroke-width="0.6" />
<line x1="198.89999999999998" y1="445.3" x2="202.5" y2="445.3" stroke="#444" stroke-width="0.6" />
<line x1="200.7" y1="443.5" x2="200.7" y2="447.1" stroke="#444" stroke-width="0.6" />
<line x1="198.89999999999998" y1="471.2" x2="202.5" y2="471.2" stroke="#444" stroke-width="0.6" />
<line x1="200.7" y1="469.4" x2="200.7" y2="473.0" stroke="#444" stroke-width="0.6" />
<line x1="101.5" y1="445.3" x2="236" y2="445.3" stroke="#999" stroke-width="0.4" />
<text x="91" y="488.7" font-size="7" fill="#2b2b2b" font-weight="normal" text-anchor="start" font-family='"Liberation Sans",sans-serif'  stroke="#2b2b2b" stroke-width="0.08">10</text>
<line x1="88" y1="491" x2="100.7" y2="491" stroke="#6e6e6e" stroke-width="0.5" />
<line x1="100.7" y1="477.6" x2="100.7" y2="504" stroke="#6e6e6e" stroke-width="0.5" />
<line x1="200.7" y1="471" x2="200.7" y2="493" stroke="#6e6e6e" stroke-width="0.5" />
<line x1="236.5" y1="477.6" x2="236.5" y2="504" stroke="#6e6e6e" stroke-width="0.5" />
<line x1="102.5" y1="491.5" x2="200.7" y2="491.5" stroke="#6e6e6e" stroke-width="0.5" />
<path d="M102.5,491.5 L105.0,490.6 L105.0,492.4 Z" fill="#555" stroke="none" stroke-width="1" />
<path d="M200.7,491.5 L198.2,490.6 L198.2,492.4 Z" fill="#555" stroke="none" stroke-width="1" />
<text x="155.5" y="488.7" text-anchor="middle" ><tspan font-size="7" fill="#2b2b2b" font-weight="normal" font-family='"Liberation Sans",sans-serif'>M*Pitch100*M6</tspan><tspan font-size="7" fill="#2b2b2b" font-weight="normal" font-family='"Liberation Sans",sans-serif'>▾</tspan><tspan font-size="7" fill="#2b2b2b" font-weight="normal" font-family='"Liberation Sans",sans-serif'>14</tspan></text>
<line x1="200.7" y1="491.5" x2="236.5" y2="491.5" stroke="#6e6e6e" stroke-width="0.5" />
<path d="M200.7,491.5 L203.2,490.6 L203.2,492.4 Z" fill="#555" stroke="none" stroke-width="1" />
<path d="M236.5,491.5 L234.0,490.6 L234.0,492.4 Z" fill="#555" stroke="none" stroke-width="1" />
<text x="218.5" y="488.7" font-size="7" fill="#2b2b2b" font-weight="normal" text-anchor="middle" font-family='"Liberation Sans",sans-serif' >148</text>
<line x1="100.7" y1="502" x2="236.5" y2="502" stroke="#6e6e6e" stroke-width="0.5" />
<path d="M100.7,502 L103.2,501.1 L103.2,502.9 Z" fill="#555" stroke="none" stroke-width="1" />
<path d="M236.5,502 L234.0,501.1 L234.0,502.9 Z" fill="#555" stroke="none" stroke-width="1" />
<text x="119.4" y="499.8" text-anchor="start"  textLength="98.6" lengthAdjust="spacingAndGlyphs"><tspan font-size="7.4" fill="#2b2b2b" font-weight="normal" font-family='"Liberation Sans",sans-serif'>總長</tspan><tspan font-size="6.2" fill="#999" font-weight="normal" font-family='"Liberation Sans",sans-serif'>Total Length</tspan><tspan font-size="7.4" fill="#2b2b2b" font-weight="normal" font-family='"Liberation Sans",sans-serif'> L=行程</tspan><tspan font-size="6.2" fill="#999" font-weight="normal" font-family='"Liberation Sans",sans-serif'>Stroke</tspan><tspan font-size="7.4" fill="#2b2b2b" font-weight="normal" font-family='"Liberation Sans",sans-serif'>+258</tspan></text>
<text x="250.5" y="444.4" font-size="7" fill="#2b2b2b" font-weight="normal" text-anchor="start" font-family='"Liberation Sans",sans-serif'  stroke="#2b2b2b" stroke-width="0.08">135</text>
<line x1="236.5" y1="445.8" x2="262" y2="445.8" stroke="#6e6e6e" stroke-width="0.5" />
<path d="M243,452 L247,452" fill="none" stroke="#333" stroke-width="0.6" />
<path d="M242.5,452 L244.5,451.1 L244.5,452.9 Z" fill="#555" stroke="none" stroke-width="1" />
<text x="249.4" y="454.2" font-size="7.5" fill="#e0262b" font-weight="normal" text-anchor="start" font-family='"Liberation Sans",sans-serif' >A</text>
<text x="253.7" y="460.4" font-size="7" fill="#2b2b2b" font-weight="normal" text-anchor="start" font-family='"Liberation Sans",sans-serif'  stroke="#2b2b2b" stroke-width="0.08">27</text>
<line x1="252" y1="462" x2="262" y2="462" stroke="#6e6e6e" stroke-width="0.5" />
<line x1="252" y1="462" x2="246" y2="472.6" stroke="#6e6e6e" stroke-width="0.5" />
<line x1="236.5" y1="472.6" x2="246" y2="472.6" stroke="#6e6e6e" stroke-width="0.5" />
<text x="250" y="469.3" font-size="7" fill="#2b2b2b" font-weight="normal" text-anchor="start" font-family='"Liberation Sans",sans-serif'  stroke="#2b2b2b" stroke-width="0.08">0.5</text>
<line x1="249" y1="470.8" x2="262" y2="470.8" stroke="#6e6e6e" stroke-width="0.5" />
<line x1="249" y1="470.8" x2="249" y2="477" stroke="#6e6e6e" stroke-width="0.5" />
<text x="255" y="476.7" font-size="7" fill="#2b2b2b" font-weight="normal" text-anchor="start" font-family='"Liberation Sans",sans-serif'  stroke="#2b2b2b" stroke-width="0.08">0</text>
<line x1="236.5" y1="478" x2="262" y2="478" stroke="#6e6e6e" stroke-width="0.5" />
<path d="M343,476.6 L343,443 Q343,442 344,442 L352.3,442 Q353.3,442 353.3,443 L353.3,474 L364,474 L366.5,474.6 L360,477.3 L329,477.3 Q328.4,477.3 328.4,476.6 L328.4,474 L343,474" fill="#e6e7e9" stroke="#4b4b4b" stroke-width="0.9" />
<rect x="345.4" y="446" width="5.4" height="11" fill="#fff" stroke="#555" stroke-width="0.7" rx="1.2" />
<rect x="345.4" y="461" width="5.4" height="11" fill="#fff" stroke="#555" stroke-width="0.7" rx="1.2" />
<line x1="353.3" y1="475.2" x2="367" y2="475.2" stroke="#444" stroke-width="1" />
<text x="309.4" y="444.8" font-size="7" fill="#2b2b2b" font-weight="normal" text-anchor="start" font-family='"Liberation Sans",sans-serif'  stroke="#2b2b2b" stroke-width="0.08">141</text>
<line x1="308" y1="446.3" x2="324" y2="446.3" stroke="#6e6e6e" stroke-width="0.5" />
<line x1="324" y1="446.3" x2="327" y2="443.5" stroke="#6e6e6e" stroke-width="0.5" />
<line x1="327" y1="443.5" x2="343" y2="443.5" stroke="#6e6e6e" stroke-width="0.5" />
<text x="309.4" y="453.5" font-size="7" fill="#2b2b2b" font-weight="normal" text-anchor="start" font-family='"Liberation Sans",sans-serif'  stroke="#2b2b2b" stroke-width="0.08">21</text>
<line x1="308" y1="455" x2="320" y2="455" stroke="#6e6e6e" stroke-width="0.5" />
<line x1="320" y1="455" x2="333" y2="474" stroke="#6e6e6e" stroke-width="0.5" />
<text x="309.4" y="461.4" font-size="7" fill="#2b2b2b" font-weight="normal" text-anchor="start" font-family='"Liberation Sans",sans-serif'  stroke="#2b2b2b" stroke-width="0.08">13</text>
<line x1="308" y1="463" x2="318" y2="463" stroke="#6e6e6e" stroke-width="0.5" />
<line x1="318" y1="463" x2="329" y2="474.5" stroke="#6e6e6e" stroke-width="0.5" />
<text x="309.4" y="469.3" font-size="7" fill="#2b2b2b" font-weight="normal" text-anchor="start" font-family='"Liberation Sans",sans-serif'  stroke="#2b2b2b" stroke-width="0.08">0.5</text>
<line x1="308" y1="470.8" x2="318" y2="470.8" stroke="#6e6e6e" stroke-width="0.5" />
<line x1="318" y1="470.8" x2="325" y2="476" stroke="#6e6e6e" stroke-width="0.5" />
<text x="310" y="476" font-size="7" fill="#2b2b2b" font-weight="normal" text-anchor="start" font-family='"Liberation Sans",sans-serif'  stroke="#2b2b2b" stroke-width="0.08">0</text>
<line x1="308" y1="477.5" x2="328.4" y2="477.5" stroke="#6e6e6e" stroke-width="0.5" />
<line x1="344.8" y1="424" x2="344.8" y2="442" stroke="#6e6e6e" stroke-width="0.5" />
<line x1="359" y1="424" x2="359" y2="436" stroke="#6e6e6e" stroke-width="0.5" />
<line x1="359" y1="436" x2="353.3" y2="442" stroke="#6e6e6e" stroke-width="0.5" />
<text x="0" y="0" font-size="7" fill="#2b2b2b" text-anchor="middle" font-family='"Liberation Sans",sans-serif' stroke="#2b2b2b" stroke-width="0.08" transform="translate(343.8,429) rotate(-90)">62</text>
<text x="0" y="0" font-size="7" fill="#2b2b2b" text-anchor="middle" font-family='"Liberation Sans",sans-serif' stroke="#2b2b2b" stroke-width="0.08" transform="translate(358.5,429) rotate(-90)">96</text>
<line x1="328.4" y1="477.3" x2="328.4" y2="500" stroke="#6e6e6e" stroke-width="0.5" />
<text x="0" y="0" font-size="7" fill="#2b2b2b" text-anchor="middle" font-family='"Liberation Sans",sans-serif' stroke="#2b2b2b" stroke-width="0.08" transform="translate(328,494) rotate(-90)">0</text>
<line x1="353" y1="477.3" x2="357.5" y2="482" stroke="#6e6e6e" stroke-width="0.5" />
<line x1="357.5" y1="482" x2="357.5" y2="500" stroke="#6e6e6e" stroke-width="0.5" />
<line x1="366.5" y1="470" x2="366.5" y2="500" stroke="#6e6e6e" stroke-width="0.5" />
<text x="0" y="0" font-size="7" fill="#2b2b2b" text-anchor="middle" font-family='"Liberation Sans",sans-serif' stroke="#2b2b2b" stroke-width="0.08" transform="translate(357.8,493.2) rotate(-90)">110</text>
<text x="0" y="0" font-size="7" fill="#2b2b2b" text-anchor="middle" font-family='"Liberation Sans",sans-serif' stroke="#2b2b2b" stroke-width="0.08" transform="translate(366.4,490.8) rotate(-90)">154.5</text>
<text x="0" y="0" font-size="6" fill="#2b2b2b" text-anchor="middle" font-family='"Liberation Sans",sans-serif' stroke="#2b2b2b" stroke-width="0.08" transform="translate(365.8,468.3) rotate(-90)">8</text>
<path d="M100.2,530.5 L203.8,530.5 Q207.6,530.5 207.6,526.5 L207.6,521.6 Q207.6,520.3 208.9,520.3 L238.4,520.3 L238.4,559 L100.2,559 Z" fill="#e6e7e9" stroke="#4b4b4b" stroke-width="1.1" />
<line x1="100.2" y1="533.2" x2="238.4" y2="533.2" stroke="#777" stroke-width="0.6" />
<line x1="100.2" y1="537" x2="238.4" y2="537" stroke="#666" stroke-width="0.9" />
<line x1="100.2" y1="539.7" x2="238.4" y2="539.7" stroke="#888" stroke-width="0.6" />
<line x1="100.2" y1="547" x2="238.4" y2="547" stroke="#777" stroke-width="0.6" />
<line x1="100.2" y1="548.4" x2="238.4" y2="548.4" stroke="#999" stroke-width="0.5" />
<line x1="203.8" y1="533.2" x2="203.8" y2="547" stroke="#777" stroke-width="0.5" />
<line x1="232" y1="521" x2="232" y2="557" stroke="#999" stroke-width="0.4" />
<rect x="200.9" y="548.9" width="1.2" height="1.2" fill="#555" stroke="none" stroke-width="1" rx="0" />
<rect x="204.9" y="548.9" width="1.2" height="1.2" fill="#555" stroke="none" stroke-width="1" rx="0" />
<rect x="200.9" y="553.9" width="1.2" height="1.2" fill="#555" stroke="none" stroke-width="1" rx="0" />
<rect x="204.9" y="553.9" width="1.2" height="1.2" fill="#555" stroke="none" stroke-width="1" rx="0" />
<circle cx="210.3" cy="534.2" r="4.1" fill="none" stroke="#29a3dc" stroke-width="0.9"/>
<line x1="207.3" y1="534.2" x2="213.3" y2="534.2" stroke="#444" stroke-width="0.6" />
<line x1="210.3" y1="531.2" x2="210.3" y2="537.2" stroke="#444" stroke-width="0.6" />
<text x="200" y="526.8" font-size="7.5" fill="#29a3dc" font-weight="normal" text-anchor="start" font-family='"Liberation Sans",sans-serif' >B</text>
<text x="217.7" y="511.4" font-size="7" fill="#2b2b2b" font-weight="normal" text-anchor="start" font-family='"Liberation Sans",sans-serif'  stroke="#2b2b2b" stroke-width="0.08">104</text>
<line x1="210" y1="513" x2="236" y2="513" stroke="#6e6e6e" stroke-width="0.5" />
<line x1="210" y1="513" x2="210" y2="520" stroke="#6e6e6e" stroke-width="0.5" />
<text x="243.5" y="511.4" font-size="7" fill="#2b2b2b" font-weight="normal" text-anchor="start" font-family='"Liberation Sans",sans-serif'  stroke="#2b2b2b" stroke-width="0.08">7</text>
<line x1="236" y1="513" x2="249" y2="513" stroke="#6e6e6e" stroke-width="0.5" />
<line x1="238.4" y1="513" x2="238.4" y2="520" stroke="#6e6e6e" stroke-width="0.5" />
<line x1="238.4" y1="520.3" x2="253" y2="520.3" stroke="#6e6e6e" stroke-width="0.5" />
<line x1="238.4" y1="533.2" x2="253" y2="533.2" stroke="#6e6e6e" stroke-width="0.5" />
<line x1="253" y1="520.3" x2="253" y2="533.2" stroke="#6e6e6e" stroke-width="0.5" />
<text x="0" y="0" font-size="6.5" fill="#2b2b2b" text-anchor="middle" font-family='"Liberation Sans",sans-serif' stroke="#2b2b2b" stroke-width="0.08" transform="translate(251.5,526.8) rotate(-90)">55.5</text>
<text x="251" y="546.2" text-anchor="start" ><tspan font-size="7" fill="#2b2b2b" font-weight="normal" font-family='"Liberation Sans",sans-serif'>Ø6</tspan><tspan font-size="7" fill="#2b2b2b" font-weight="normal" font-family='"Liberation Sans",sans-serif'>▾</tspan><tspan font-size="7" fill="#2b2b2b" font-weight="normal" font-family='"Liberation Sans",sans-serif'>3 H7</tspan></text>
<line x1="250" y1="548" x2="280" y2="548" stroke="#6e6e6e" stroke-width="0.5" />
<line x1="250" y1="548" x2="232" y2="532" stroke="#6e6e6e" stroke-width="0.5" />
<text x="326" y="516.6" font-size="7.6" fill="#29a3dc" font-weight="normal" text-anchor="start" font-family='"Liberation Sans",sans-serif' >B View</text>
<circle cx="337.3" cy="533" r="9.8" fill="#e6e7e9" stroke="#29a3dc" stroke-width="1"/>
<line x1="328" y1="529" x2="346.5" y2="529" stroke="#888" stroke-width="0.6" />
<line x1="319" y1="533" x2="343" y2="533" stroke="#555" stroke-width="0.6" />
<line x1="337.3" y1="527" x2="337.3" y2="539" stroke="#555" stroke-width="0.6" />
<line x1="335.6" y1="533" x2="335.6" y2="551" stroke="#777" stroke-width="0.5" />
<line x1="339.3" y1="533" x2="339.3" y2="551" stroke="#777" stroke-width="0.5" />
<text x="321" y="524.6" font-size="7" fill="#2b2b2b" font-weight="normal" text-anchor="start" font-family='"Liberation Sans",sans-serif'  stroke="#2b2b2b" stroke-width="0.08">2</text>
<line x1="320" y1="526" x2="326" y2="526" stroke="#6e6e6e" stroke-width="0.5" />
<line x1="320" y1="526" x2="320" y2="540" stroke="#6e6e6e" stroke-width="0.5" />
<text x="345.7" y="549.2" text-anchor="start" ><tspan font-size="7" fill="#2b2b2b" font-weight="normal" font-family='"Liberation Sans",sans-serif'>6</tspan><tspan font-size="7" fill="#2b2b2b" font-weight="normal" font-family='"Liberation Sans",sans-serif'>▾</tspan><tspan font-size="7" fill="#2b2b2b" font-weight="normal" font-family='"Liberation Sans",sans-serif'>3 H7</tspan></text>
<line x1="330" y1="550.7" x2="370" y2="550.7" stroke="#6e6e6e" stroke-width="0.5" />
<rect x="85.4" y="575.6" width="291.6" height="11.600000000000023" fill="#82a893" stroke="none" stroke-width="1" rx="0" />
<rect x="85.4" y="587.2" width="61.099999999999994" height="18.399999999999977" fill="#d9eedf" stroke="none" stroke-width="1" rx="0" />
<text x="89.0" y="585.6" font-size="9" fill="#fff" font-weight="normal" text-anchor="start" font-family='"Liberation Sans",sans-serif'  stroke="#fff" stroke-width="0.15" textLength="34.1" lengthAdjust="spacingAndGlyphs">有效行程</text>
<text x="123.8" y="584.6" font-size="6.2" fill="#eef6f0" font-weight="normal" text-anchor="start" font-family='"Liberation Sans",sans-serif'  textLength="19.0" lengthAdjust="spacingAndGlyphs">Stroke</text>
<text x="149.75" y="585" font-size="7.8" fill="#fff" font-weight="normal" text-anchor="start" font-family='"Liberation Sans",sans-serif'  textLength="13.6" lengthAdjust="spacingAndGlyphs">100</text>
<text x="170.29999999999998" y="585" font-size="7.8" fill="#fff" font-weight="normal" text-anchor="start" font-family='"Liberation Sans",sans-serif'  textLength="13.6" lengthAdjust="spacingAndGlyphs">150</text>
<text x="190.75" y="585" font-size="7.8" fill="#fff" font-weight="normal" text-anchor="start" font-family='"Liberation Sans",sans-serif'  textLength="13.6" lengthAdjust="spacingAndGlyphs">200</text>
<text x="210.85" y="585" font-size="7.8" fill="#fff" font-weight="normal" text-anchor="start" font-family='"Liberation Sans",sans-serif'  textLength="13.6" lengthAdjust="spacingAndGlyphs">250</text>
<text x="231.35" y="585" font-size="7.8" fill="#fff" font-weight="normal" text-anchor="start" font-family='"Liberation Sans",sans-serif'  textLength="13.6" lengthAdjust="spacingAndGlyphs">300</text>
<text x="251.89999999999998" y="585" font-size="7.8" fill="#fff" font-weight="normal" text-anchor="start" font-family='"Liberation Sans",sans-serif'  textLength="13.6" lengthAdjust="spacingAndGlyphs">350</text>
<text x="271.95" y="585" font-size="7.8" fill="#fff" font-weight="normal" text-anchor="start" font-family='"Liberation Sans",sans-serif'  textLength="13.6" lengthAdjust="spacingAndGlyphs">400</text>
<text x="291.90000000000003" y="585" font-size="7.8" fill="#fff" font-weight="normal" text-anchor="start" font-family='"Liberation Sans",sans-serif'  textLength="13.6" lengthAdjust="spacingAndGlyphs">450</text>
<text x="312.45" y="585" font-size="7.8" fill="#fff" font-weight="normal" text-anchor="start" font-family='"Liberation Sans",sans-serif'  textLength="13.6" lengthAdjust="spacingAndGlyphs">500</text>
<text x="332.34999999999997" y="585" font-size="7.8" fill="#fff" font-weight="normal" text-anchor="start" font-family='"Liberation Sans",sans-serif'  textLength="13.6" lengthAdjust="spacingAndGlyphs">550</text>
<text x="349.15" y="580.5" font-size="4" fill="#e0262b" font-weight="normal" text-anchor="middle" font-family='"Liberation Sans",sans-serif' >※1</text>
<text x="356.0" y="585" font-size="7.8" fill="#fff" font-weight="normal" text-anchor="start" font-family='"Liberation Sans",sans-serif'  textLength="13.6" lengthAdjust="spacingAndGlyphs">600</text>
<text x="372.8" y="580.5" font-size="4" fill="#e0262b" font-weight="normal" text-anchor="middle" font-family='"Liberation Sans",sans-serif' >※1</text>
<text x="113.2" y="594.9" font-size="7.6" fill="#2b2b2b" font-weight="normal" text-anchor="start" font-family='"Liberation Sans",sans-serif'  stroke="#2b2b2b" stroke-width="0.1" textLength="4.6" lengthAdjust="spacingAndGlyphs">L</text>
<text x="112.2" y="603.9" font-size="7.6" fill="#2b2b2b" font-weight="normal" text-anchor="start" font-family='"Liberation Sans",sans-serif'  stroke="#2b2b2b" stroke-width="0.1" textLength="7.1" lengthAdjust="spacingAndGlyphs">M</text>
<text x="149.75" y="594.9" font-size="7.8" fill="#2b2b2b" font-weight="normal" text-anchor="start" font-family='"Liberation Sans",sans-serif'  stroke="#2b2b2b" stroke-width="0.1" textLength="13.6" lengthAdjust="spacingAndGlyphs">358</text>
<text x="154.05" y="603.9" font-size="7.8" fill="#2b2b2b" font-weight="normal" text-anchor="start" font-family='"Liberation Sans",sans-serif'  stroke="#2b2b2b" stroke-width="0.1" textLength="5.0" lengthAdjust="spacingAndGlyphs">2</text>
<text x="180.25" y="594.9" font-size="7.8" fill="#2b2b2b" font-weight="normal" text-anchor="start" font-family='"Liberation Sans",sans-serif'  stroke="#2b2b2b" stroke-width="0.1" textLength="13.6" lengthAdjust="spacingAndGlyphs">458</text>
<text x="184.55" y="603.9" font-size="7.8" fill="#2b2b2b" font-weight="normal" text-anchor="start" font-family='"Liberation Sans",sans-serif'  stroke="#2b2b2b" stroke-width="0.1" textLength="5.0" lengthAdjust="spacingAndGlyphs">3</text>
<text x="221.2" y="594.9" font-size="7.8" fill="#2b2b2b" font-weight="normal" text-anchor="start" font-family='"Liberation Sans",sans-serif'  stroke="#2b2b2b" stroke-width="0.1" textLength="13.6" lengthAdjust="spacingAndGlyphs">558</text>
<text x="225.5" y="603.9" font-size="7.8" fill="#2b2b2b" font-weight="normal" text-anchor="start" font-family='"Liberation Sans",sans-serif'  stroke="#2b2b2b" stroke-width="0.1" textLength="5.0" lengthAdjust="spacingAndGlyphs">4</text>
<text x="261.75" y="594.9" font-size="7.8" fill="#2b2b2b" font-weight="normal" text-anchor="start" font-family='"Liberation Sans",sans-serif'  stroke="#2b2b2b" stroke-width="0.1" textLength="13.6" lengthAdjust="spacingAndGlyphs">658</text>
<text x="266.05" y="603.9" font-size="7.8" fill="#2b2b2b" font-weight="normal" text-anchor="start" font-family='"Liberation Sans",sans-serif'  stroke="#2b2b2b" stroke-width="0.1" textLength="5.0" lengthAdjust="spacingAndGlyphs">5</text>
<text x="302.34999999999997" y="594.9" font-size="7.8" fill="#2b2b2b" font-weight="normal" text-anchor="start" font-family='"Liberation Sans",sans-serif'  stroke="#2b2b2b" stroke-width="0.1" textLength="13.6" lengthAdjust="spacingAndGlyphs">758</text>
<text x="306.65" y="603.9" font-size="7.8" fill="#2b2b2b" font-weight="normal" text-anchor="start" font-family='"Liberation Sans",sans-serif'  stroke="#2b2b2b" stroke-width="0.1" textLength="5.0" lengthAdjust="spacingAndGlyphs">6</text>
<text x="346.55" y="594.9" font-size="7.8" fill="#2b2b2b" font-weight="normal" text-anchor="start" font-family='"Liberation Sans",sans-serif'  stroke="#2b2b2b" stroke-width="0.1" textLength="13.6" lengthAdjust="spacingAndGlyphs">858</text>
<text x="350.85" y="603.9" font-size="7.8" fill="#2b2b2b" font-weight="normal" text-anchor="start" font-family='"Liberation Sans",sans-serif'  stroke="#2b2b2b" stroke-width="0.1" textLength="5.0" lengthAdjust="spacingAndGlyphs">7</text>
<line x1="146.5" y1="575.6" x2="146.5" y2="587.2" stroke="#5f8a70" stroke-width="1" />
<line x1="146.5" y1="587.2" x2="146.5" y2="605.6" stroke="#929292" stroke-width="1" />
<line x1="166.6" y1="575.6" x2="166.6" y2="587.2" stroke="#5f8a70" stroke-width="1" />
<line x1="166.6" y1="587.2" x2="166.6" y2="605.6" stroke="#929292" stroke-width="1" />
<line x1="187.6" y1="575.6" x2="187.6" y2="587.2" stroke="#5f8a70" stroke-width="1" />
<line x1="207.5" y1="575.6" x2="207.5" y2="587.2" stroke="#5f8a70" stroke-width="1" />
<line x1="207.5" y1="587.2" x2="207.5" y2="605.6" stroke="#929292" stroke-width="1" />
<line x1="227.8" y1="575.6" x2="227.8" y2="587.2" stroke="#5f8a70" stroke-width="1" />
<line x1="248.5" y1="575.6" x2="248.5" y2="587.2" stroke="#5f8a70" stroke-width="1" />
<line x1="248.5" y1="587.2" x2="248.5" y2="605.6" stroke="#929292" stroke-width="1" />
<line x1="268.9" y1="575.6" x2="268.9" y2="587.2" stroke="#5f8a70" stroke-width="1" />
<line x1="288.6" y1="575.6" x2="288.6" y2="587.2" stroke="#5f8a70" stroke-width="1" />
<line x1="288.6" y1="587.2" x2="288.6" y2="605.6" stroke="#929292" stroke-width="1" />
<line x1="308.8" y1="575.6" x2="308.8" y2="587.2" stroke="#5f8a70" stroke-width="1" />
<line x1="329.7" y1="575.6" x2="329.7" y2="587.2" stroke="#5f8a70" stroke-width="1" />
<line x1="329.7" y1="587.2" x2="329.7" y2="605.6" stroke="#929292" stroke-width="1" />
<line x1="352.6" y1="575.6" x2="352.6" y2="587.2" stroke="#5f8a70" stroke-width="1" />
<line x1="85.4" y1="596.5" x2="377" y2="596.5" stroke="#929292" stroke-width="1" />
<line x1="85.4" y1="587.2" x2="377" y2="587.2" stroke="#9a9a9a" stroke-width="0.8" />
<rect x="85.4" y="575.6" width="291.6" height="30.0" fill="none" stroke="#6a6a6a" stroke-width="1.1" rx="0" />
<text x="399.3" y="339.4" font-size="10" fill="#231f20" font-weight="normal" text-anchor="start" font-family='"Liberation Sans",sans-serif'  stroke="#231f20" stroke-width="0.1" textLength="96.0" lengthAdjust="spacingAndGlyphs">連結座各行程對應料號</text>
<text x="399.09999999999997" y="346.6" font-size="7.4" fill="#9a9a9a" font-weight="normal" text-anchor="start" font-family='"Liberation Serif",serif'  textLength="143.1" lengthAdjust="spacingAndGlyphs">Part Number of Brackets According to Strokes</text>
<rect x="397.2" y="351.4" width="171.7" height="20.200000000000045" fill="#82a893" stroke="none" stroke-width="1" rx="0" />
<rect x="397.2" y="371.6" width="34.30000000000001" height="213.29999999999995" fill="#d9eedf" stroke="none" stroke-width="1" rx="0" />
<text x="406.0" y="361.2" font-size="9" fill="#eef6f0" font-weight="normal" text-anchor="start" font-family='"Liberation Sans",sans-serif'  stroke="#eef6f0" stroke-width="0.2" textLength="17.3" lengthAdjust="spacingAndGlyphs">料號</text>
<text x="404.7" y="368.8" font-size="5.8" fill="#eef6f0" font-weight="normal" text-anchor="start" font-family='"Liberation Sans",sans-serif'  textLength="19.6" lengthAdjust="spacingAndGlyphs">Part NO</text>
<text x="436.7" y="361.2" font-size="9" fill="#eef6f0" font-weight="normal" text-anchor="start" font-family='"Liberation Sans",sans-serif'  stroke="#eef6f0" stroke-width="0.2" textLength="32.6" lengthAdjust="spacingAndGlyphs">Y 軸行程</text>
<text x="432.7" y="368.8" font-size="5.8" fill="#eef6f0" font-weight="normal" text-anchor="start" font-family='"Liberation Sans",sans-serif'  textLength="40.6" lengthAdjust="spacingAndGlyphs">Stroke of Y axis</text>
<text x="513.3000000000001" y="361.2" font-size="9" fill="#eef6f0" font-weight="normal" text-anchor="start" font-family='"Liberation Sans",sans-serif'  stroke="#eef6f0" stroke-width="0.2" textLength="16.8" lengthAdjust="spacingAndGlyphs">規格</text>
<text x="505.59999999999997" y="368.8" font-size="5.8" fill="#eef6f0" font-weight="normal" text-anchor="start" font-family='"Liberation Sans",sans-serif'  textLength="32.9" lengthAdjust="spacingAndGlyphs">Specification</text>
<text x="401.5" y="387.8" font-size="8.9" fill="#2b2b2b" font-weight="normal" text-anchor="start" font-family='"Liberation Sans",sans-serif'  stroke="#2b2b2b" stroke-width="0.05" textLength="26.8" lengthAdjust="spacingAndGlyphs">11033-</text>
<text x="400.09999999999997" y="397.5" font-size="8.9" fill="#2b2b2b" font-weight="normal" text-anchor="start" font-family='"Liberation Sans",sans-serif'  stroke="#2b2b2b" stroke-width="0.05" textLength="28.7" lengthAdjust="spacingAndGlyphs">000066</text>
<text x="446.5" y="393.20000000000005" font-size="8.8" fill="#2b2b2b" font-weight="normal" text-anchor="start" font-family='"Liberation Sans",sans-serif'  stroke="#2b2b2b" stroke-width="0.05" textLength="13.8" lengthAdjust="spacingAndGlyphs">100</text>
<text x="490.7" y="388.5" font-size="9" fill="#231f20" font-weight="normal" text-anchor="start" font-family='"Liberation Sans",sans-serif'  stroke="#231f20" stroke-width="0.04" textLength="62.8" lengthAdjust="spacingAndGlyphs">行程 100- 長 358</text>
<text x="486.7" y="404.6" font-size="7.2" fill="#999" font-weight="normal" text-anchor="start" font-family='"Liberation Sans",sans-serif'  textLength="70.8" lengthAdjust="spacingAndGlyphs">Stroke 100-Length 358</text>
<text x="489.9" y="380.40000000000003" font-size="9" fill="#231f20" font-weight="normal" text-anchor="start" font-family='"Liberation Sans",sans-serif'  stroke="#231f20" stroke-width="0.04" textLength="64.4" lengthAdjust="spacingAndGlyphs">XYGT440-A2/A3-</text>
<text x="495.5" y="397.40000000000003" font-size="7.2" fill="#999" font-weight="normal" text-anchor="start" font-family='"Liberation Sans",sans-serif'  textLength="53.8" lengthAdjust="spacingAndGlyphs">XYGT440-A2/A3-</text>
<text x="401.5" y="423.35" font-size="8.9" fill="#2b2b2b" font-weight="normal" text-anchor="start" font-family='"Liberation Sans",sans-serif'  stroke="#2b2b2b" stroke-width="0.05" textLength="26.8" lengthAdjust="spacingAndGlyphs">11033-</text>
<text x="400.09999999999997" y="433.05" font-size="8.9" fill="#2b2b2b" font-weight="normal" text-anchor="start" font-family='"Liberation Sans",sans-serif'  stroke="#2b2b2b" stroke-width="0.05" textLength="28.7" lengthAdjust="spacingAndGlyphs">000067</text>
<text x="437.7" y="428.75000000000006" font-size="8.8" fill="#2b2b2b" font-weight="normal" text-anchor="start" font-family='"Liberation Sans",sans-serif'  stroke="#2b2b2b" stroke-width="0.05" textLength="31.3" lengthAdjust="spacingAndGlyphs">150-200</text>
<text x="480.5" y="424.05" font-size="9" fill="#231f20" font-weight="normal" text-anchor="start" font-family='"Liberation Sans",sans-serif'  stroke="#231f20" stroke-width="0.04" textLength="83.2" lengthAdjust="spacingAndGlyphs">行程 150(200)- 長 458</text>
<text x="477.7" y="440.15000000000003" font-size="7.2" fill="#999" font-weight="normal" text-anchor="start" font-family='"Liberation Sans",sans-serif'  textLength="88.0" lengthAdjust="spacingAndGlyphs">Stroke 150(200)-Length 458</text>
<text x="489.9" y="415.95000000000005" font-size="9" fill="#231f20" font-weight="normal" text-anchor="start" font-family='"Liberation Sans",sans-serif'  stroke="#231f20" stroke-width="0.04" textLength="64.4" lengthAdjust="spacingAndGlyphs">XYGT440-A2/A3-</text>
<text x="495.5" y="432.95000000000005" font-size="7.2" fill="#999" font-weight="normal" text-anchor="start" font-family='"Liberation Sans",sans-serif'  textLength="53.8" lengthAdjust="spacingAndGlyphs">XYGT440-A2/A3-</text>
<text x="401.5" y="458.9" font-size="8.9" fill="#2b2b2b" font-weight="normal" text-anchor="start" font-family='"Liberation Sans",sans-serif'  stroke="#2b2b2b" stroke-width="0.05" textLength="26.8" lengthAdjust="spacingAndGlyphs">11033-</text>
<text x="400.09999999999997" y="468.59999999999997" font-size="8.9" fill="#2b2b2b" font-weight="normal" text-anchor="start" font-family='"Liberation Sans",sans-serif'  stroke="#2b2b2b" stroke-width="0.05" textLength="28.7" lengthAdjust="spacingAndGlyphs">000068</text>
<text x="437.7" y="464.3" font-size="8.8" fill="#2b2b2b" font-weight="normal" text-anchor="start" font-family='"Liberation Sans",sans-serif'  stroke="#2b2b2b" stroke-width="0.05" textLength="31.3" lengthAdjust="spacingAndGlyphs">250-300</text>
<text x="480.5" y="459.59999999999997" font-size="9" fill="#231f20" font-weight="normal" text-anchor="start" font-family='"Liberation Sans",sans-serif'  stroke="#231f20" stroke-width="0.04" textLength="83.2" lengthAdjust="spacingAndGlyphs">行程 250(300)- 長 558</text>
<text x="477.7" y="475.7" font-size="7.2" fill="#999" font-weight="normal" text-anchor="start" font-family='"Liberation Sans",sans-serif'  textLength="88.0" lengthAdjust="spacingAndGlyphs">Stroke 250(300)-Length 558</text>
<text x="489.9" y="451.5" font-size="9" fill="#231f20" font-weight="normal" text-anchor="start" font-family='"Liberation Sans",sans-serif'  stroke="#231f20" stroke-width="0.04" textLength="64.4" lengthAdjust="spacingAndGlyphs">XYGT440-A2/A3-</text>
<text x="495.5" y="468.5" font-size="7.2" fill="#999" font-weight="normal" text-anchor="start" font-family='"Liberation Sans",sans-serif'  textLength="53.8" lengthAdjust="spacingAndGlyphs">XYGT440-A2/A3-</text>
<text x="401.5" y="494.45" font-size="8.9" fill="#2b2b2b" font-weight="normal" text-anchor="start" font-family='"Liberation Sans",sans-serif'  stroke="#2b2b2b" stroke-width="0.05" textLength="26.8" lengthAdjust="spacingAndGlyphs">11033-</text>
<text x="400.09999999999997" y="504.15" font-size="8.9" fill="#2b2b2b" font-weight="normal" text-anchor="start" font-family='"Liberation Sans",sans-serif'  stroke="#2b2b2b" stroke-width="0.05" textLength="28.7" lengthAdjust="spacingAndGlyphs">000069</text>
<text x="437.7" y="499.85" font-size="8.8" fill="#2b2b2b" font-weight="normal" text-anchor="start" font-family='"Liberation Sans",sans-serif'  stroke="#2b2b2b" stroke-width="0.05" textLength="31.3" lengthAdjust="spacingAndGlyphs">350-400</text>
<text x="480.5" y="495.15" font-size="9" fill="#231f20" font-weight="normal" text-anchor="start" font-family='"Liberation Sans",sans-serif'  stroke="#231f20" stroke-width="0.04" textLength="83.2" lengthAdjust="spacingAndGlyphs">行程 350(400)- 長 658</text>
<text x="477.7" y="511.25" font-size="7.2" fill="#999" font-weight="normal" text-anchor="start" font-family='"Liberation Sans",sans-serif'  textLength="88.0" lengthAdjust="spacingAndGlyphs">Stroke 350(400)-Length 658</text>
<text x="489.9" y="487.05" font-size="9" fill="#231f20" font-weight="normal" text-anchor="start" font-family='"Liberation Sans",sans-serif'  stroke="#231f20" stroke-width="0.04" textLength="64.4" lengthAdjust="spacingAndGlyphs">XYGT440-A2/A3-</text>
<text x="495.5" y="504.05" font-size="7.2" fill="#999" font-weight="normal" text-anchor="start" font-family='"Liberation Sans",sans-serif'  textLength="53.8" lengthAdjust="spacingAndGlyphs">XYGT440-A2/A3-</text>
<text x="401.5" y="530.0" font-size="8.9" fill="#2b2b2b" font-weight="normal" text-anchor="start" font-family='"Liberation Sans",sans-serif'  stroke="#2b2b2b" stroke-width="0.05" textLength="26.8" lengthAdjust="spacingAndGlyphs">11033-</text>
<text x="400.09999999999997" y="539.6999999999999" font-size="8.9" fill="#2b2b2b" font-weight="normal" text-anchor="start" font-family='"Liberation Sans",sans-serif'  stroke="#2b2b2b" stroke-width="0.05" textLength="28.7" lengthAdjust="spacingAndGlyphs">000070</text>
<text x="437.7" y="535.4" font-size="8.8" fill="#2b2b2b" font-weight="normal" text-anchor="start" font-family='"Liberation Sans",sans-serif'  stroke="#2b2b2b" stroke-width="0.05" textLength="31.3" lengthAdjust="spacingAndGlyphs">450-500</text>
<text x="480.5" y="530.6999999999999" font-size="9" fill="#231f20" font-weight="normal" text-anchor="start" font-family='"Liberation Sans",sans-serif'  stroke="#231f20" stroke-width="0.04" textLength="83.2" lengthAdjust="spacingAndGlyphs">行程 450(500)- 長 758</text>
<text x="477.7" y="546.8" font-size="7.2" fill="#999" font-weight="normal" text-anchor="start" font-family='"Liberation Sans",sans-serif'  textLength="88.0" lengthAdjust="spacingAndGlyphs">Stroke 450(500)-Length 758</text>
<text x="489.9" y="522.5999999999999" font-size="9" fill="#231f20" font-weight="normal" text-anchor="start" font-family='"Liberation Sans",sans-serif'  stroke="#231f20" stroke-width="0.04" textLength="64.4" lengthAdjust="spacingAndGlyphs">XYGT440-A2/A3-</text>
<text x="495.5" y="539.5999999999999" font-size="7.2" fill="#999" font-weight="normal" text-anchor="start" font-family='"Liberation Sans",sans-serif'  textLength="53.8" lengthAdjust="spacingAndGlyphs">XYGT440-A2/A3-</text>
<text x="421.8" y="556.9499999999999" font-size="5" fill="#e0262b" font-weight="normal" text-anchor="start" font-family='"Liberation Sans",sans-serif'  textLength="8.7" lengthAdjust="spacingAndGlyphs">※1</text>
<text x="403.3" y="565.55" font-size="8.9" fill="#2b2b2b" font-weight="normal" text-anchor="start" font-family='"Liberation Sans",sans-serif'  stroke="#2b2b2b" stroke-width="0.05" textLength="23.3" lengthAdjust="spacingAndGlyphs">11033</text>
<text x="399.09999999999997" y="575.2499999999999" font-size="8.9" fill="#2b2b2b" font-weight="normal" text-anchor="start" font-family='"Liberation Sans",sans-serif'  stroke="#2b2b2b" stroke-width="0.05" textLength="31.1" lengthAdjust="spacingAndGlyphs">-000071</text>
<text x="437.7" y="570.9499999999999" font-size="8.8" fill="#2b2b2b" font-weight="normal" text-anchor="start" font-family='"Liberation Sans",sans-serif'  stroke="#2b2b2b" stroke-width="0.05" textLength="31.3" lengthAdjust="spacingAndGlyphs">550-600</text>
<text x="480.5" y="566.2499999999999" font-size="9" fill="#231f20" font-weight="normal" text-anchor="start" font-family='"Liberation Sans",sans-serif'  stroke="#231f20" stroke-width="0.04" textLength="83.2" lengthAdjust="spacingAndGlyphs">行程 550(600)- 長 858</text>
<text x="477.7" y="582.3499999999999" font-size="7.2" fill="#999" font-weight="normal" text-anchor="start" font-family='"Liberation Sans",sans-serif'  textLength="88.0" lengthAdjust="spacingAndGlyphs">Stroke 550(600)-Length 858</text>
<text x="489.9" y="558.1499999999999" font-size="9" fill="#231f20" font-weight="normal" text-anchor="start" font-family='"Liberation Sans",sans-serif'  stroke="#231f20" stroke-width="0.04" textLength="64.4" lengthAdjust="spacingAndGlyphs">XYGT440-A2/A3-</text>
<text x="495.5" y="575.1499999999999" font-size="7.2" fill="#999" font-weight="normal" text-anchor="start" font-family='"Liberation Sans",sans-serif'  textLength="53.8" lengthAdjust="spacingAndGlyphs">XYGT440-A2/A3-</text>
<line x1="431.5" y1="351.4" x2="431.5" y2="371.6" stroke="#5f8a70" stroke-width="1" />
<line x1="431.5" y1="371.6" x2="431.5" y2="584.9" stroke="#929292" stroke-width="1" />
<line x1="474.5" y1="351.4" x2="474.5" y2="371.6" stroke="#5f8a70" stroke-width="1" />
<line x1="474.5" y1="371.6" x2="474.5" y2="584.9" stroke="#929292" stroke-width="1" />
<line x1="397.2" y1="407.15000000000003" x2="568.9" y2="407.15000000000003" stroke="#929292" stroke-width="1" />
<line x1="397.2" y1="442.7" x2="568.9" y2="442.7" stroke="#929292" stroke-width="1" />
<line x1="397.2" y1="478.25" x2="568.9" y2="478.25" stroke="#929292" stroke-width="1" />
<line x1="397.2" y1="513.8" x2="568.9" y2="513.8" stroke="#929292" stroke-width="1" />
<line x1="397.2" y1="549.3499999999999" x2="568.9" y2="549.3499999999999" stroke="#929292" stroke-width="1" />
<rect x="397.2" y="351.4" width="171.7" height="233.5" fill="none" stroke="#6a6a6a" stroke-width="1.1" rx="0" />
<text x="397.3" y="594.2" font-size="6" fill="#e0262b" font-weight="normal" text-anchor="start" font-family='"Liberation Sans",sans-serif'  textLength="9.0" lengthAdjust="spacingAndGlyphs">※1</text>
<text x="407.7" y="594.2" font-size="6" fill="#231f20" font-weight="normal" text-anchor="start" font-family='"Liberation Sans",sans-serif'  stroke="#231f20" stroke-width="0.1" textLength="65.7" lengthAdjust="spacingAndGlyphs">導程組合 C 時才可選用。</text>
<text x="407.7" y="599.8" font-size="5.8" fill="#999" font-weight="normal" text-anchor="start" font-family='"Liberation Sans",sans-serif'  textLength="74.1" lengthAdjust="spacingAndGlyphs">Only for Lead Composition C.</text>
<text x="74.30000000000003" y="627" font-size="9.8" fill="#231f20" font-weight="normal" text-anchor="start" font-family='"Liberation Sans",sans-serif'  stroke="#231f20" stroke-width="0.15" textLength="35.7" lengthAdjust="spacingAndGlyphs">X 軸板金</text>
<text x="114.00000000000001" y="626.6" font-size="7.2" fill="#9a9a9a" font-weight="normal" text-anchor="start" font-family='"Liberation Serif",serif'  textLength="67.1" lengthAdjust="spacingAndGlyphs">Sheet Metal of X Axis</text>
<text x="74.30000000000003" y="638.2" font-size="8.8" fill="#231f20" font-weight="normal" text-anchor="start" font-family='"Liberation Sans",sans-serif'  stroke="#231f20" stroke-width="0.1" textLength="17.2" lengthAdjust="spacingAndGlyphs">料號</text>
<text x="93.30000000000003" y="637.6" font-size="5.6" fill="#9a9a9a" font-weight="normal" text-anchor="start" font-family='"Liberation Serif",serif'  textLength="21.0" lengthAdjust="spacingAndGlyphs">Part NO</text>
<text x="116.89999999999999" y="638" font-size="8" fill="#231f20" font-weight="normal" text-anchor="start" font-family='"Liberation Sans",sans-serif'  stroke="#231f20" stroke-width="0.15" textLength="2.4" lengthAdjust="spacingAndGlyphs">:</text>
<text x="124.7" y="638.4" font-size="8.6" fill="#231f20" font-weight="normal" text-anchor="start" font-family='"Liberation Sans",sans-serif'  stroke="#231f20" stroke-width="0.12" textLength="54.9" lengthAdjust="spacingAndGlyphs">22041-000630</text>
<text x="205.2" y="638.2" font-size="8.8" fill="#231f20" font-weight="normal" text-anchor="start" font-family='"Liberation Sans",sans-serif'  stroke="#231f20" stroke-width="0.1" textLength="16.0" lengthAdjust="spacingAndGlyphs">材質</text>
<text x="223.09999999999997" y="637.6" font-size="5.6" fill="#9a9a9a" font-weight="normal" text-anchor="start" font-family='"Liberation Serif",serif'  textLength="22.8" lengthAdjust="spacingAndGlyphs">Material</text>
<text x="247.8" y="638" font-size="8" fill="#231f20" font-weight="normal" text-anchor="start" font-family='"Liberation Sans",sans-serif'  stroke="#231f20" stroke-width="0.15" textLength="2.4" lengthAdjust="spacingAndGlyphs">:</text>
<text x="255.09999999999997" y="638.4" font-size="8.6" fill="#231f20" font-weight="normal" text-anchor="start" font-family='"Liberation Sans",sans-serif'  stroke="#231f20" stroke-width="0.12" textLength="28.2" lengthAdjust="spacingAndGlyphs">SUS304</text>
<path d="M179.2,664 L275.4,664 Q276.9,664 276.9,665.5 L276.9,717.7 Q276.9,719.2 275.4,719.2 L232.8,719.2 L231.6,716 L179.2,716 Z" fill="#e6e7e9" stroke="#4b4b4b" stroke-width="1.1" />
<line x1="183.5" y1="676.5" x2="187.3" y2="676.5" stroke="#444" stroke-width="0.7" />
<line x1="185.4" y1="674.6" x2="185.4" y2="678.4" stroke="#444" stroke-width="0.7" />
<line x1="183.5" y1="689.2" x2="187.3" y2="689.2" stroke="#444" stroke-width="0.7" />
<line x1="185.4" y1="687.3000000000001" x2="185.4" y2="691.1" stroke="#444" stroke-width="0.7" />
<line x1="183.5" y1="702.3" x2="187.3" y2="702.3" stroke="#444" stroke-width="0.7" />
<line x1="185.4" y1="700.4" x2="185.4" y2="704.1999999999999" stroke="#444" stroke-width="0.7" />
<circle cx="201.5" cy="674.3" r="1.7" fill="#bbb" stroke="#444" stroke-width="0.7"/>
<rect x="200.9" y="673.6999999999999" width="1.2" height="1.2" fill="#333" stroke="none" stroke-width="1" rx="0" />
<circle cx="201.5" cy="704.2" r="1.7" fill="#bbb" stroke="#444" stroke-width="0.7"/>
<rect x="200.9" y="703.6" width="1.2" height="1.2" fill="#333" stroke="none" stroke-width="1" rx="0" />
<text x="153" y="657.7" font-size="7" fill="#2b2b2b" font-weight="normal" text-anchor="start" font-family='"Liberation Sans",sans-serif'  stroke="#2b2b2b" stroke-width="0.08">3-M3-thr.</text>
<line x1="152" y1="659.3" x2="180" y2="659.3" stroke="#6e6e6e" stroke-width="0.5" />
<line x1="180" y1="659.3" x2="185.4" y2="676" stroke="#6e6e6e" stroke-width="0.5" />
<text x="213" y="653" font-size="7" fill="#2b2b2b" font-weight="normal" text-anchor="start" font-family='"Liberation Sans",sans-serif'  stroke="#2b2b2b" stroke-width="0.08">2-M5-thr.</text>
<line x1="212" y1="654.6" x2="241" y2="654.6" stroke="#6e6e6e" stroke-width="0.5" />
<line x1="212" y1="654.6" x2="201.5" y2="674" stroke="#6e6e6e" stroke-width="0.5" />
<line x1="147" y1="664" x2="179.2" y2="664" stroke="#6e6e6e" stroke-width="0.5" />
<line x1="147" y1="716" x2="179.2" y2="716" stroke="#6e6e6e" stroke-width="0.5" />
<line x1="149.5" y1="664" x2="149.5" y2="716" stroke="#6e6e6e" stroke-width="0.5" />
<path d="M149.5,664 L148.6,666.5 L150.4,666.5 Z" fill="#555" stroke="none" stroke-width="1" />
<path d="M149.5,716 L148.6,713.5 L150.4,713.5 Z" fill="#555" stroke="none" stroke-width="1" />
<text x="0" y="0" font-size="7.5" fill="#2b2b2b" text-anchor="middle" font-family='"Liberation Sans",sans-serif' stroke="#2b2b2b" stroke-width="0.08" transform="translate(147.5,690) rotate(-90)">69</text>
<line x1="162" y1="676.5" x2="185.4" y2="676.5" stroke="#6e6e6e" stroke-width="0.5" />
<line x1="162" y1="689.2" x2="185.4" y2="689.2" stroke="#6e6e6e" stroke-width="0.5" />
<line x1="162" y1="702.3" x2="185.4" y2="702.3" stroke="#6e6e6e" stroke-width="0.5" />
<line x1="162" y1="716" x2="179" y2="716" stroke="#6e6e6e" stroke-width="0.5" />
<line x1="164" y1="676.5" x2="164" y2="689.2" stroke="#6e6e6e" stroke-width="0.5" />
<path d="M164,676.5 L163.1,679.0 L164.9,679.0 Z" fill="#555" stroke="none" stroke-width="1" />
<path d="M164,689.2 L163.1,686.7 L164.9,686.7 Z" fill="#555" stroke="none" stroke-width="1" />
<line x1="164" y1="689.2" x2="164" y2="702.3" stroke="#6e6e6e" stroke-width="0.5" />
<path d="M164,689.2 L163.1,691.7 L164.9,691.7 Z" fill="#555" stroke="none" stroke-width="1" />
<path d="M164,702.3 L163.1,699.8 L164.9,699.8 Z" fill="#555" stroke="none" stroke-width="1" />
<line x1="164" y1="702.3" x2="164" y2="716" stroke="#6e6e6e" stroke-width="0.5" />
<path d="M164,702.3 L163.1,704.8 L164.9,704.8 Z" fill="#555" stroke="none" stroke-width="1" />
<path d="M164,716 L163.1,713.5 L164.9,713.5 Z" fill="#555" stroke="none" stroke-width="1" />
<text x="0" y="0" font-size="7.5" fill="#2b2b2b" text-anchor="middle" font-family='"Liberation Sans",sans-serif' stroke="#2b2b2b" stroke-width="0.08" transform="translate(162,683) rotate(-90)">16</text>
<text x="0" y="0" font-size="7.5" fill="#2b2b2b" text-anchor="middle" font-family='"Liberation Sans",sans-serif' stroke="#2b2b2b" stroke-width="0.08" transform="translate(162,696) rotate(-90)">16</text>
<text x="0" y="0" font-size="7.5" fill="#2b2b2b" text-anchor="middle" font-family='"Liberation Sans",sans-serif' stroke="#2b2b2b" stroke-width="0.08" transform="translate(162,709) rotate(-90)">17</text>
<line x1="174.2" y1="711" x2="174.2" y2="731" stroke="#6e6e6e" stroke-width="0.5" />
<line x1="172" y1="716" x2="179" y2="716" stroke="#6e6e6e" stroke-width="0.5" />
<line x1="172" y1="719.2" x2="179" y2="719.2" stroke="#6e6e6e" stroke-width="0.5" />
<text x="0" y="0" font-size="7.5" fill="#2b2b2b" text-anchor="middle" font-family='"Liberation Sans",sans-serif' stroke="#2b2b2b" stroke-width="0.08" transform="translate(172.5,728) rotate(-90)">4</text>
<line x1="203" y1="674.3" x2="215" y2="674.3" stroke="#6e6e6e" stroke-width="0.5" />
<line x1="203" y1="704.2" x2="215" y2="704.2" stroke="#6e6e6e" stroke-width="0.5" />
<line x1="213" y1="674.3" x2="213" y2="704.2" stroke="#6e6e6e" stroke-width="0.5" />
<path d="M213,674.3 L212.1,676.8 L213.9,676.8 Z" fill="#555" stroke="none" stroke-width="1" />
<path d="M213,704.2 L212.1,701.7 L213.9,701.7 Z" fill="#555" stroke="none" stroke-width="1" />
<text x="0" y="0" font-size="7.5" fill="#2b2b2b" text-anchor="middle" font-family='"Liberation Sans",sans-serif' stroke="#2b2b2b" stroke-width="0.08" transform="translate(211.5,689) rotate(-90)">37</text>
<line x1="213" y1="716" x2="213" y2="732" stroke="#6e6e6e" stroke-width="0.5" />
<text x="0" y="0" font-size="7.5" fill="#2b2b2b" text-anchor="middle" font-family='"Liberation Sans",sans-serif' stroke="#2b2b2b" stroke-width="0.08" transform="translate(211.8,723.5) rotate(-90)">14.5</text>
<line x1="185.4" y1="705" x2="185.4" y2="736" stroke="#6e6e6e" stroke-width="0.5" />
<line x1="201.5" y1="705" x2="201.5" y2="736" stroke="#6e6e6e" stroke-width="0.5" />
<line x1="179.2" y1="716" x2="179.2" y2="757" stroke="#6e6e6e" stroke-width="0.5" />
<line x1="276.9" y1="719.2" x2="276.9" y2="757" stroke="#6e6e6e" stroke-width="0.5" />
<line x1="185.4" y1="734.5" x2="201.5" y2="734.5" stroke="#6e6e6e" stroke-width="0.5" />
<path d="M185.4,734.5 L187.9,733.6 L187.9,735.4 Z" fill="#555" stroke="none" stroke-width="1" />
<path d="M201.5,734.5 L199.0,733.6 L199.0,735.4 Z" fill="#555" stroke="none" stroke-width="1" />
<text x="193.5" y="731.5" font-size="7" fill="#2b2b2b" font-weight="normal" text-anchor="middle" font-family='"Liberation Sans",sans-serif'  stroke="#2b2b2b" stroke-width="0.08">20</text>
<line x1="201.5" y1="733" x2="276.9" y2="733" stroke="#6e6e6e" stroke-width="0.5" />
<path d="M201.5,733 L204.0,732.1 L204.0,733.9 Z" fill="#555" stroke="none" stroke-width="1" />
<path d="M276.9,733 L274.4,732.1 L274.4,733.9 Z" fill="#555" stroke="none" stroke-width="1" />
<text x="237.7" y="731.5" font-size="7" fill="#2b2b2b" font-weight="normal" text-anchor="middle" font-family='"Liberation Sans",sans-serif'  stroke="#2b2b2b" stroke-width="0.08">95</text>
<line x1="179.2" y1="754.6" x2="276.9" y2="754.6" stroke="#6e6e6e" stroke-width="0.5" />
<path d="M179.2,754.6 L181.7,753.7 L181.7,755.5 Z" fill="#555" stroke="none" stroke-width="1" />
<path d="M276.9,754.6 L274.4,753.7 L274.4,755.5 Z" fill="#555" stroke="none" stroke-width="1" />
<text x="226.5" y="752.3" font-size="7" fill="#2b2b2b" font-weight="normal" text-anchor="middle" font-family='"Liberation Sans",sans-serif'  stroke="#2b2b2b" stroke-width="0.08">123</text>
<path d="M86.9,770.6 L139,770.6 Q141,770.6 141,772.6 L141,790.5" fill="none" stroke="#555" stroke-width="1.6" />
<line x1="85" y1="766" x2="85" y2="790" stroke="#6e6e6e" stroke-width="0.5" />
<line x1="86.9" y1="772" x2="86.9" y2="810" stroke="#6e6e6e" stroke-width="0.5" />
<line x1="77" y1="769.6" x2="86.9" y2="769.6" stroke="#6e6e6e" stroke-width="0.5" />
<line x1="77" y1="771.6" x2="86.9" y2="771.6" stroke="#6e6e6e" stroke-width="0.5" />
<line x1="79" y1="762" x2="79" y2="769.6" stroke="#6e6e6e" stroke-width="0.5" />
<line x1="79" y1="771.6" x2="79" y2="780" stroke="#6e6e6e" stroke-width="0.5" />
<text x="0" y="0" font-size="6.5" fill="#2b2b2b" text-anchor="middle" font-family='"Liberation Sans",sans-serif' stroke="#2b2b2b" stroke-width="0.08" transform="translate(77,771) rotate(-90)">2</text>
<line x1="141" y1="770.6" x2="160" y2="770.6" stroke="#6e6e6e" stroke-width="0.5" />
<line x1="141" y1="790.5" x2="160" y2="790.5" stroke="#6e6e6e" stroke-width="0.5" />
<line x1="158" y1="770.6" x2="158" y2="790.5" stroke="#6e6e6e" stroke-width="0.5" />
<path d="M158,770.6 L157.1,773.1 L158.9,773.1 Z" fill="#555" stroke="none" stroke-width="1" />
<path d="M158,790.5 L157.1,788.0 L158.9,788.0 Z" fill="#555" stroke="none" stroke-width="1" />
<text x="0" y="0" font-size="7.5" fill="#2b2b2b" text-anchor="middle" font-family='"Liberation Sans",sans-serif' stroke="#2b2b2b" stroke-width="0.08" transform="translate(155.8,781.5) rotate(-90)">26.5</text>
<line x1="141" y1="792" x2="141" y2="810" stroke="#6e6e6e" stroke-width="0.5" />
<line x1="86.9" y1="806.6" x2="141" y2="806.6" stroke="#6e6e6e" stroke-width="0.5" />
<path d="M86.9,806.6 L89.4,805.7 L89.4,807.5 Z" fill="#555" stroke="none" stroke-width="1" />
<path d="M141,806.6 L138.5,805.7 L138.5,807.5 Z" fill="#555" stroke="none" stroke-width="1" />
<text x="113.6" y="805" font-size="7" fill="#2b2b2b" font-weight="normal" text-anchor="middle" font-family='"Liberation Sans",sans-serif'  stroke="#2b2b2b" stroke-width="0.08">69</text>
<path d="M178.8,770.7 L231.2,770.7" fill="none" stroke="#555" stroke-width="1.6" />
<rect x="231.2" y="770" width="46.1" height="20.8" fill="#e6e7e9" stroke="#4b4b4b" stroke-width="1" rx="0" />
<circle cx="236.5" cy="785.5" r="1.8" fill="none" stroke="#555" stroke-width="0.6"/>
<line x1="233.9" y1="785.5" x2="239.1" y2="785.5" stroke="#444" stroke-width="0.5" />
<line x1="236.5" y1="782.9" x2="236.5" y2="788.1" stroke="#444" stroke-width="0.5" />
<circle cx="270.5" cy="785.5" r="1.8" fill="none" stroke="#555" stroke-width="0.6"/>
<line x1="267.9" y1="785.5" x2="273.1" y2="785.5" stroke="#444" stroke-width="0.5" />
<line x1="270.5" y1="782.9" x2="270.5" y2="788.1" stroke="#444" stroke-width="0.5" />
<text x="193" y="793.8" font-size="7" fill="#2b2b2b" font-weight="normal" text-anchor="start" font-family='"Liberation Sans",sans-serif'  stroke="#2b2b2b" stroke-width="0.08">2-Ø5.5-thr.</text>
<line x1="192" y1="795.3" x2="226" y2="795.3" stroke="#6e6e6e" stroke-width="0.5" />
<line x1="226" y1="795.3" x2="245" y2="776" stroke="#6e6e6e" stroke-width="0.5" />
<line x1="236.5" y1="790.8" x2="236.5" y2="805" stroke="#6e6e6e" stroke-width="0.5" />
<line x1="270.5" y1="790.8" x2="270.5" y2="805" stroke="#6e6e6e" stroke-width="0.5" />
<line x1="236.5" y1="803.5" x2="272" y2="803.5" stroke="#6e6e6e" stroke-width="0.5" />
<path d="M236.5,803.5 L239.0,802.6 L239.0,804.4 Z" fill="#555" stroke="none" stroke-width="1" />
<path d="M272,803.5 L269.5,802.6 L269.5,804.4 Z" fill="#555" stroke="none" stroke-width="1" />
<text x="253.7" y="801.2" font-size="7" fill="#2b2b2b" font-weight="normal" text-anchor="middle" font-family='"Liberation Sans",sans-serif'  stroke="#2b2b2b" stroke-width="0.08">44</text>
<line x1="277.3" y1="770" x2="310" y2="770" stroke="#6e6e6e" stroke-width="0.5" />
<line x1="277.3" y1="790.8" x2="310" y2="790.8" stroke="#6e6e6e" stroke-width="0.5" />
<line x1="308" y1="770" x2="308" y2="790.8" stroke="#6e6e6e" stroke-width="0.5" />
<path d="M308,770 L307.1,772.5 L308.9,772.5 Z" fill="#555" stroke="none" stroke-width="1" />
<path d="M308,790.8 L307.1,788.3 L308.9,788.3 Z" fill="#555" stroke="none" stroke-width="1" />
<text x="0" y="0" font-size="7.5" fill="#2b2b2b" text-anchor="middle" font-family='"Liberation Sans",sans-serif' stroke="#2b2b2b" stroke-width="0.08" transform="translate(306,780.5) rotate(-90)">26.5</text>
<text x="285.4" y="778" font-size="7" fill="#2b2b2b" font-weight="normal" text-anchor="start" font-family='"Liberation Sans",sans-serif'  stroke="#2b2b2b" stroke-width="0.08">6</text>
<line x1="283.5" y1="779.5" x2="283.5" y2="802" stroke="#6e6e6e" stroke-width="0.5" />
<line x1="272" y1="803.5" x2="295" y2="803.5" stroke="#6e6e6e" stroke-width="0.5" />
<text x="285.4" y="801.2" font-size="7" fill="#2b2b2b" font-weight="normal" text-anchor="start" font-family='"Liberation Sans",sans-serif'  stroke="#2b2b2b" stroke-width="0.08">6.5</text>
<line x1="231.5" y1="791" x2="231.5" y2="821" stroke="#6e6e6e" stroke-width="0.5" />
<line x1="277.5" y1="791" x2="277.5" y2="821" stroke="#6e6e6e" stroke-width="0.5" />
<line x1="231.5" y1="819" x2="277.5" y2="819" stroke="#6e6e6e" stroke-width="0.5" />
<path d="M231.5,819 L234.0,818.1 L234.0,819.9 Z" fill="#555" stroke="none" stroke-width="1" />
<path d="M277.5,819 L275.0,818.1 L275.0,819.9 Z" fill="#555" stroke="none" stroke-width="1" />
<text x="254.3" y="817.6" font-size="7" fill="#2b2b2b" font-weight="normal" text-anchor="middle" font-family='"Liberation Sans",sans-serif'  stroke="#2b2b2b" stroke-width="0.08">57</text>
<text x="326.3" y="627" font-size="9.8" fill="#231f20" font-weight="normal" text-anchor="start" font-family='"Liberation Sans",sans-serif'  stroke="#231f20" stroke-width="0.15" textLength="35.7" lengthAdjust="spacingAndGlyphs">Y 軸板金</text>
<text x="366.0" y="626.6" font-size="7.2" fill="#9a9a9a" font-weight="normal" text-anchor="start" font-family='"Liberation Serif",serif'  textLength="67.1" lengthAdjust="spacingAndGlyphs">Sheet Metal of Y Axis</text>
<text x="326.3" y="638.2" font-size="8.8" fill="#231f20" font-weight="normal" text-anchor="start" font-family='"Liberation Sans",sans-serif'  stroke="#231f20" stroke-width="0.1" textLength="17.2" lengthAdjust="spacingAndGlyphs">料號</text>
<text x="345.3" y="637.6" font-size="5.6" fill="#9a9a9a" font-weight="normal" text-anchor="start" font-family='"Liberation Serif",serif'  textLength="21.0" lengthAdjust="spacingAndGlyphs">Part NO</text>
<text x="368.9" y="638" font-size="8" fill="#231f20" font-weight="normal" text-anchor="start" font-family='"Liberation Sans",sans-serif'  stroke="#231f20" stroke-width="0.15" textLength="2.4" lengthAdjust="spacingAndGlyphs">:</text>
<text x="376.7" y="638.4" font-size="8.6" fill="#231f20" font-weight="normal" text-anchor="start" font-family='"Liberation Sans",sans-serif'  stroke="#231f20" stroke-width="0.12" textLength="54.9" lengthAdjust="spacingAndGlyphs">22041-000632</text>
<text x="457.2" y="638.2" font-size="8.8" fill="#231f20" font-weight="normal" text-anchor="start" font-family='"Liberation Sans",sans-serif'  stroke="#231f20" stroke-width="0.1" textLength="16.0" lengthAdjust="spacingAndGlyphs">材質</text>
<text x="475.09999999999997" y="637.6" font-size="5.6" fill="#9a9a9a" font-weight="normal" text-anchor="start" font-family='"Liberation Serif",serif'  textLength="22.8" lengthAdjust="spacingAndGlyphs">Material</text>
<text x="499.8" y="638" font-size="8" fill="#231f20" font-weight="normal" text-anchor="start" font-family='"Liberation Sans",sans-serif'  stroke="#231f20" stroke-width="0.15" textLength="2.4" lengthAdjust="spacingAndGlyphs">:</text>
<text x="507.09999999999997" y="638.4" font-size="8.6" fill="#231f20" font-weight="normal" text-anchor="start" font-family='"Liberation Sans",sans-serif'  stroke="#231f20" stroke-width="0.12" textLength="28.2" lengthAdjust="spacingAndGlyphs">SUS304</text>
<path d="M367.1,688.3 L378.7,688.3 Q380.7,688.3 380.7,690.3 L380.7,764.8 L367.1,764.8 Z" fill="#e6e7e9" stroke="#4b4b4b" stroke-width="1" />
<path d="M379.8,764 L379.8,789" fill="none" stroke="#444" stroke-width="2" />
<line x1="370.2" y1="695" x2="374.59999999999997" y2="695" stroke="#444" stroke-width="0.6" />
<line x1="372.4" y1="692.8" x2="372.4" y2="697.2" stroke="#444" stroke-width="0.6" />
<line x1="370.2" y1="759" x2="374.59999999999997" y2="759" stroke="#444" stroke-width="0.6" />
<line x1="372.4" y1="756.8" x2="372.4" y2="761.2" stroke="#444" stroke-width="0.6" />
<line x1="367.1" y1="660" x2="367.1" y2="688" stroke="#6e6e6e" stroke-width="0.5" />
<line x1="380.7" y1="660" x2="380.7" y2="688" stroke="#6e6e6e" stroke-width="0.5" />
<line x1="372.4" y1="676" x2="372.4" y2="690" stroke="#6e6e6e" stroke-width="0.5" />
<line x1="367.1" y1="665.3" x2="380.7" y2="665.3" stroke="#6e6e6e" stroke-width="0.5" />
<path d="M367.1,665.3 L369.6,664.4 L369.6,666.1999999999999 Z" fill="#555" stroke="none" stroke-width="1" />
<path d="M380.7,665.3 L378.2,664.4 L378.2,666.1999999999999 Z" fill="#555" stroke="none" stroke-width="1" />
<text x="374" y="663" font-size="7" fill="#2b2b2b" font-weight="normal" text-anchor="middle" font-family='"Liberation Sans",sans-serif'  stroke="#2b2b2b" stroke-width="0.08">20</text>
<line x1="362" y1="680" x2="367.1" y2="680" stroke="#6e6e6e" stroke-width="0.5" />
<line x1="372.4" y1="680" x2="383" y2="680" stroke="#6e6e6e" stroke-width="0.5" />
<path d="M367.1,680 L364.6,679.1 L364.6,680.9 Z" fill="#555" stroke="none" stroke-width="1" />
<path d="M372.4,680 L374.9,679.1 L374.9,680.9 Z" fill="#555" stroke="none" stroke-width="1" />
<text x="368.3" y="678.3" font-size="7" fill="#2b2b2b" font-weight="normal" text-anchor="start" font-family='"Liberation Sans",sans-serif'  stroke="#2b2b2b" stroke-width="0.08">8</text>
<text x="324.7" y="675.8" font-size="7" fill="#2b2b2b" font-weight="normal" text-anchor="start" font-family='"Liberation Sans",sans-serif'  stroke="#2b2b2b" stroke-width="0.08">2-R2.5</text>
<line x1="323" y1="677.3" x2="345" y2="677.3" stroke="#6e6e6e" stroke-width="0.5" />
<line x1="345" y1="677.3" x2="367.5" y2="688.6" stroke="#6e6e6e" stroke-width="0.5" />
<line x1="328" y1="688.3" x2="367" y2="688.3" stroke="#6e6e6e" stroke-width="0.5" />
<line x1="328" y1="764.8" x2="367" y2="764.8" stroke="#6e6e6e" stroke-width="0.5" />
<line x1="331.3" y1="688.3" x2="331.3" y2="764.8" stroke="#6e6e6e" stroke-width="0.5" />
<path d="M331.3,688.3 L330.40000000000003,690.8 L332.2,690.8 Z" fill="#555" stroke="none" stroke-width="1" />
<path d="M331.3,764.8 L330.40000000000003,762.3 L332.2,762.3 Z" fill="#555" stroke="none" stroke-width="1" />
<text x="0" y="0" font-size="7.5" fill="#2b2b2b" text-anchor="middle" font-family='"Liberation Sans",sans-serif' stroke="#2b2b2b" stroke-width="0.08" transform="translate(329.5,726) rotate(-90)">110</text>
<line x1="353" y1="695" x2="372" y2="695" stroke="#6e6e6e" stroke-width="0.5" />
<line x1="353" y1="759" x2="372" y2="759" stroke="#6e6e6e" stroke-width="0.5" />
<line x1="356.6" y1="695" x2="356.6" y2="759" stroke="#6e6e6e" stroke-width="0.5" />
<path d="M356.6,695 L355.70000000000005,697.5 L357.5,697.5 Z" fill="#555" stroke="none" stroke-width="1" />
<path d="M356.6,759 L355.70000000000005,756.5 L357.5,756.5 Z" fill="#555" stroke="none" stroke-width="1" />
<text x="0" y="0" font-size="7.5" fill="#2b2b2b" text-anchor="middle" font-family='"Liberation Sans",sans-serif' stroke="#2b2b2b" stroke-width="0.08" transform="translate(354.5,727) rotate(-90)">92</text>
<line x1="356.6" y1="759" x2="356.6" y2="772" stroke="#6e6e6e" stroke-width="0.5" />
<text x="0" y="0" font-size="6.5" fill="#2b2b2b" text-anchor="middle" font-family='"Liberation Sans",sans-serif' stroke="#2b2b2b" stroke-width="0.08" transform="translate(354.5,762) rotate(-90)">9</text>
<text x="329.7" y="784.8" font-size="7" fill="#2b2b2b" font-weight="normal" text-anchor="start" font-family='"Liberation Sans",sans-serif'  stroke="#2b2b2b" stroke-width="0.08">2-Ø5.5-thr.</text>
<line x1="328" y1="786.8" x2="362" y2="786.8" stroke="#6e6e6e" stroke-width="0.5" />
<line x1="362" y1="786.8" x2="374" y2="757" stroke="#6e6e6e" stroke-width="0.5" />
<rect x="378.5" y="791.9" width="3" height="21.2" fill="#dcdcdc" stroke="none" stroke-width="1" rx="0" />
<line x1="368.2" y1="812.6" x2="378.5" y2="812.6" stroke="#6e6e6e" stroke-width="0.5" />
<line x1="381.5" y1="812.6" x2="389.4" y2="812.6" stroke="#6e6e6e" stroke-width="0.5" />
<path d="M378.5,812.6 L376.0,811.7 L376.0,813.5 Z" fill="#555" stroke="none" stroke-width="1" />
<path d="M381.5,812.6 L384.0,811.7 L384.0,813.5 Z" fill="#555" stroke="none" stroke-width="1" />
<text x="369.4" y="810.6" font-size="7" fill="#231f20" font-weight="normal" text-anchor="start" font-family='"Liberation Sans",sans-serif'  textLength="4.1" lengthAdjust="spacingAndGlyphs">2</text>
<path d="M394.6,689.1 L453.2,727.2 L509.4,727.2 Q511.2,727.2 511.2,729 L511.2,788.2 Q511.2,789.9 509.4,789.9 L446.6,789.9 L394.6,764.6 Z" fill="#e6e7e9" stroke="#4b4b4b" stroke-width="1.1" />
<line x1="394.6" y1="652" x2="394.6" y2="689" stroke="#6e6e6e" stroke-width="0.5" />
<line x1="511.2" y1="652" x2="511.2" y2="727" stroke="#6e6e6e" stroke-width="0.5" />
<line x1="453.2" y1="668" x2="453.2" y2="727" stroke="#6e6e6e" stroke-width="0.5" />
<line x1="394.6" y1="655.5" x2="511.2" y2="655.5" stroke="#6e6e6e" stroke-width="0.5" />
<path d="M394.6,655.5 L397.1,654.6 L397.1,656.4 Z" fill="#555" stroke="none" stroke-width="1" />
<path d="M511.2,655.5 L508.7,654.6 L508.7,656.4 Z" fill="#555" stroke="none" stroke-width="1" />
<text x="450" y="653.4" font-size="7" fill="#2b2b2b" font-weight="normal" text-anchor="middle" font-family='"Liberation Sans",sans-serif'  stroke="#2b2b2b" stroke-width="0.08">166.5</text>
<line x1="394.6" y1="670.6" x2="453.2" y2="670.6" stroke="#6e6e6e" stroke-width="0.5" />
<path d="M394.6,670.6 L397.1,669.7 L397.1,671.5 Z" fill="#555" stroke="none" stroke-width="1" />
<path d="M453.2,670.6 L450.7,669.7 L450.7,671.5 Z" fill="#555" stroke="none" stroke-width="1" />
<text x="425.5" y="668.6" font-size="7" fill="#2b2b2b" font-weight="normal" text-anchor="middle" font-family='"Liberation Sans",sans-serif'  stroke="#2b2b2b" stroke-width="0.08">83.25</text>
<line x1="394.6" y1="689.1" x2="570" y2="689.1" stroke="#6e6e6e" stroke-width="0.5" />
<text x="465.7" y="709.4" font-size="7" fill="#2b2b2b" font-weight="normal" text-anchor="start" font-family='"Liberation Sans",sans-serif'  stroke="#2b2b2b" stroke-width="0.08">4-R2.5</text>
<line x1="464" y1="711" x2="486" y2="711" stroke="#6e6e6e" stroke-width="0.5" />
<line x1="464" y1="711" x2="454" y2="725" stroke="#6e6e6e" stroke-width="0.5" />
<line x1="511.2" y1="727.2" x2="556" y2="727.2" stroke="#6e6e6e" stroke-width="0.5" />
<line x1="511.2" y1="789.9" x2="570" y2="789.9" stroke="#6e6e6e" stroke-width="0.5" />
<line x1="566" y1="689.1" x2="566" y2="789.9" stroke="#6e6e6e" stroke-width="0.5" />
<path d="M566,689.1 L565.1,691.6 L566.9,691.6 Z" fill="#555" stroke="none" stroke-width="1" />
<path d="M566,789.9 L565.1,787.4 L566.9,787.4 Z" fill="#555" stroke="none" stroke-width="1" />
<text x="0" y="0" font-size="7.5" fill="#2b2b2b" text-anchor="middle" font-family='"Liberation Sans",sans-serif' stroke="#2b2b2b" stroke-width="0.08" transform="translate(564,739) rotate(-90)">144.5</text>
<line x1="552.8" y1="727.2" x2="552.8" y2="789.9" stroke="#6e6e6e" stroke-width="0.5" />
<path d="M552.8,727.2 L551.9,729.7 L553.6999999999999,729.7 Z" fill="#555" stroke="none" stroke-width="1" />
<path d="M552.8,789.9 L551.9,787.4 L553.6999999999999,787.4 Z" fill="#555" stroke="none" stroke-width="1" />
<text x="0" y="0" font-size="7.5" fill="#2b2b2b" text-anchor="middle" font-family='"Liberation Sans",sans-serif' stroke="#2b2b2b" stroke-width="0.08" transform="translate(550.8,757) rotate(-90)">90</text>
<line x1="481.9" y1="762.4" x2="486.5" y2="762.4" stroke="#444" stroke-width="0.7" />
<line x1="484.2" y1="760.1" x2="484.2" y2="764.6999999999999" stroke="#444" stroke-width="0.7" />
<rect x="482.7" y="760.9" width="3" height="3" fill="none" stroke="#444" stroke-width="0.6" transform="rotate(45 484.2 762.4)"/>
<line x1="499.4" y1="762.4" x2="504.0" y2="762.4" stroke="#444" stroke-width="0.7" />
<line x1="501.7" y1="760.1" x2="501.7" y2="764.6999999999999" stroke="#444" stroke-width="0.7" />
<rect x="500.2" y="760.9" width="3" height="3" fill="none" stroke="#444" stroke-width="0.6" transform="rotate(45 501.7 762.4)"/>
<line x1="480.20000000000005" y1="781" x2="484.0" y2="781" stroke="#444" stroke-width="0.7" />
<line x1="482.1" y1="779.1" x2="482.1" y2="782.9" stroke="#444" stroke-width="0.7" />
<line x1="491.40000000000003" y1="781" x2="495.2" y2="781" stroke="#444" stroke-width="0.7" />
<line x1="493.3" y1="779.1" x2="493.3" y2="782.9" stroke="#444" stroke-width="0.7" />
<line x1="502.6" y1="781" x2="506.4" y2="781" stroke="#444" stroke-width="0.7" />
<line x1="504.5" y1="779.1" x2="504.5" y2="782.9" stroke="#444" stroke-width="0.7" />
<line x1="484.2" y1="752" x2="484.2" y2="762" stroke="#6e6e6e" stroke-width="0.5" />
<line x1="501.7" y1="752" x2="501.7" y2="762" stroke="#6e6e6e" stroke-width="0.5" />
<line x1="484.2" y1="755" x2="501.7" y2="755" stroke="#6e6e6e" stroke-width="0.5" />
<path d="M484.2,755 L486.7,754.1 L486.7,755.9 Z" fill="#555" stroke="none" stroke-width="1" />
<path d="M501.7,755 L499.2,754.1 L499.2,755.9 Z" fill="#555" stroke="none" stroke-width="1" />
<text x="493.5" y="752.9" font-size="7" fill="#2b2b2b" font-weight="normal" text-anchor="middle" font-family='"Liberation Sans",sans-serif'  stroke="#2b2b2b" stroke-width="0.08">25</text>
<line x1="511.2" y1="755" x2="536" y2="755" stroke="#6e6e6e" stroke-width="0.5" />
<text x="515.4" y="752.9" font-size="7" fill="#2b2b2b" font-weight="normal" text-anchor="start" font-family='"Liberation Sans",sans-serif'  stroke="#2b2b2b" stroke-width="0.08">13.25</text>
<line x1="503" y1="762.4" x2="534" y2="762.4" stroke="#6e6e6e" stroke-width="0.5" />
<line x1="505" y1="781" x2="534" y2="781" stroke="#6e6e6e" stroke-width="0.5" />
<line x1="530.6" y1="762.4" x2="530.6" y2="781" stroke="#6e6e6e" stroke-width="0.5" />
<path d="M530.6,762.4 L529.7,764.9 L531.5,764.9 Z" fill="#555" stroke="none" stroke-width="1" />
<path d="M530.6,781 L529.7,778.5 L531.5,778.5 Z" fill="#555" stroke="none" stroke-width="1" />
<text x="0" y="0" font-size="7.5" fill="#2b2b2b" text-anchor="middle" font-family='"Liberation Sans",sans-serif' stroke="#2b2b2b" stroke-width="0.08" transform="translate(528.5,772) rotate(-90)">27</text>
<line x1="530.6" y1="781" x2="530.6" y2="806" stroke="#6e6e6e" stroke-width="0.5" />
<text x="0" y="0" font-size="7.5" fill="#2b2b2b" text-anchor="middle" font-family='"Liberation Sans",sans-serif' stroke="#2b2b2b" stroke-width="0.08" transform="translate(528.5,798.5) rotate(-90)">12</text>
<line x1="482.1" y1="782" x2="482.1" y2="820" stroke="#6e6e6e" stroke-width="0.5" />
<line x1="493.3" y1="782" x2="493.3" y2="820" stroke="#6e6e6e" stroke-width="0.5" />
<line x1="504.5" y1="782" x2="504.5" y2="820" stroke="#6e6e6e" stroke-width="0.5" />
<line x1="511.2" y1="782" x2="511.2" y2="820" stroke="#6e6e6e" stroke-width="0.5" />
<line x1="466" y1="819" x2="482" y2="819" stroke="#6e6e6e" stroke-width="0.5" />
<path d="M482.1,819 L479.6,818.1 L479.6,819.9 Z" fill="#555" stroke="none" stroke-width="1" />
<text x="470.7" y="817.3" font-size="7" fill="#2b2b2b" font-weight="normal" text-anchor="start" font-family='"Liberation Sans",sans-serif'  stroke="#2b2b2b" stroke-width="0.08">16</text>
<line x1="493.3" y1="819" x2="505" y2="819" stroke="#6e6e6e" stroke-width="0.5" />
<text x="495.4" y="817.3" font-size="7" fill="#2b2b2b" font-weight="normal" text-anchor="start" font-family='"Liberation Sans",sans-serif'  stroke="#2b2b2b" stroke-width="0.08">16</text>
<line x1="511.2" y1="819" x2="530" y2="819" stroke="#6e6e6e" stroke-width="0.5" />
<text x="514.4" y="817.3" font-size="7" fill="#2b2b2b" font-weight="normal" text-anchor="start" font-family='"Liberation Sans",sans-serif'  stroke="#2b2b2b" stroke-width="0.08">9.75</text>
<text x="426.8" y="798.2" font-size="7" fill="#2b2b2b" font-weight="normal" text-anchor="start" font-family='"Liberation Sans",sans-serif'  stroke="#2b2b2b" stroke-width="0.08">2-M5-thr.</text>
<line x1="425" y1="800" x2="455" y2="800" stroke="#6e6e6e" stroke-width="0.5" />
<line x1="455" y1="800" x2="484" y2="762.4" stroke="#6e6e6e" stroke-width="0.5" />
<text x="426.8" y="815.8" font-size="7" fill="#2b2b2b" font-weight="normal" text-anchor="start" font-family='"Liberation Sans",sans-serif'  stroke="#2b2b2b" stroke-width="0.08">3-M3-thr.</text>
<line x1="425" y1="817.5" x2="455" y2="817.5" stroke="#6e6e6e" stroke-width="0.5" />
<line x1="455" y1="817.5" x2="482" y2="781" stroke="#6e6e6e" stroke-width="0.5" />
<path d="M0,852 L69,852 Q82,852 82,865 L82,901 L0,901 Z" fill="#82a893"/>
<text x="88.9" y="869.8" font-size="8.2" fill="#5a5a5a" font-weight="bold" text-anchor="start" font-family='"Liberation Sans",sans-serif'  textLength="79.7" lengthAdjust="spacingAndGlyphs">www.viso-auto.com</text>
</svg></body></html>
